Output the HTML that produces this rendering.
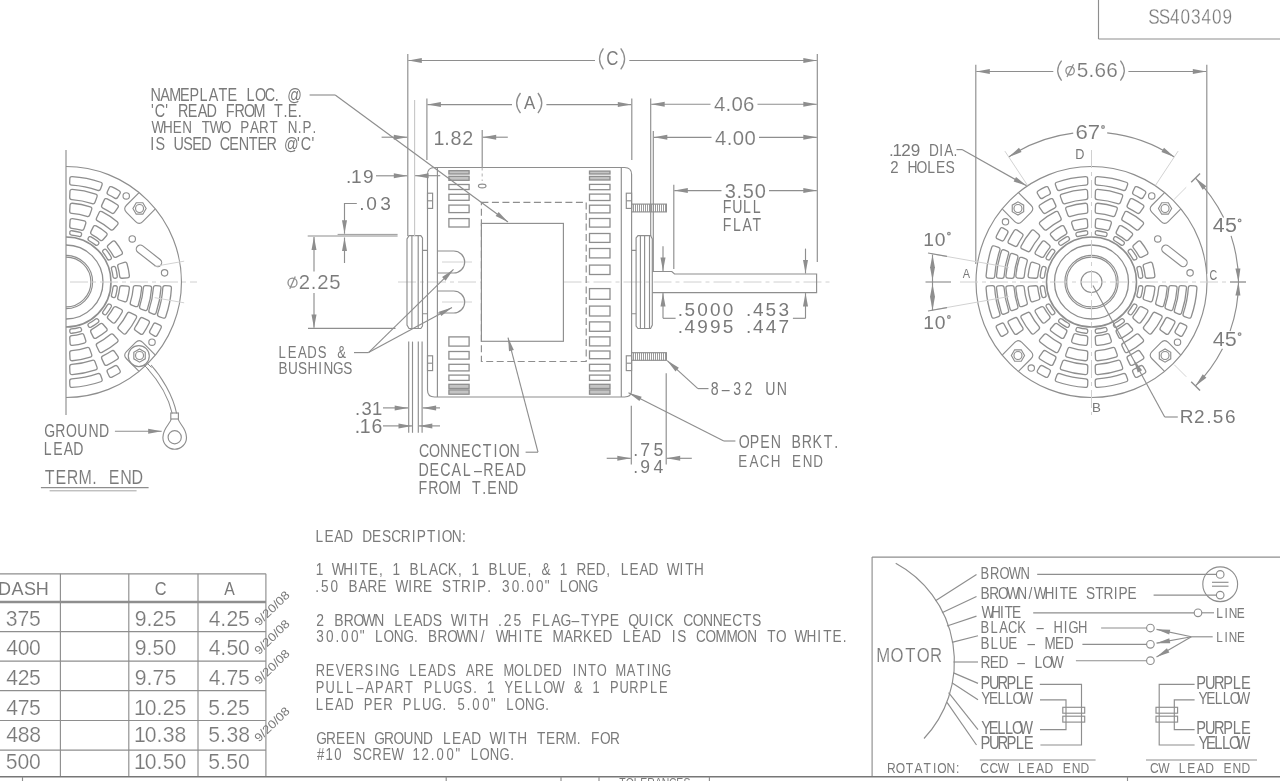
<!DOCTYPE html>
<html><head><meta charset="utf-8"><style>
html,body{margin:0;padding:0;background:#fff;overflow:hidden;width:1280px;height:781px}
svg{display:block;filter:grayscale(1)}
text{font-family:"Liberation Sans",sans-serif;fill:#7a7a7a}
</style></head><body>
<svg width="1280" height="781" viewBox="0 0 1280 781" fill="none" stroke="#8e8e8e" stroke-width="1.15">
<line x1="1098.50" y1="0.00" x2="1098.50" y2="39.00"/>
<line x1="1098.50" y1="39.00" x2="1280.00" y2="39.00"/>
<text transform="translate(0 23.80) scale(0.7800 1)" x="1472.23 1485.66 1500.16 1513.50 1527.02 1540.45 1553.79 1567.23" font-size="22.03" stroke="#fff" stroke-width="0.28">SS403409</text>
<circle cx="1091.50" cy="282.00" r="115.50"/>
<circle cx="1091.50" cy="282.00" r="45.00" stroke-width="1.60"/>
<circle cx="1091.50" cy="282.00" r="37.00" stroke-width="1.30"/>
<circle cx="1091.50" cy="282.00" r="26.60"/>
<circle cx="1091.50" cy="282.00" r="24.90"/>
<circle cx="1091.50" cy="282.00" r="10.50"/>
<path d="M1097.62 387.42 A105.60 105.60 0 0 0 1126.19 381.74 Q1128.26 380.99 1127.50 378.93 L1126.04 374.99 Q1125.27 372.93 1123.20 373.67 A97.00 97.00 0 0 1 1097.30 378.83 Q1095.10 378.93 1095.18 381.13 L1095.34 385.33 Q1095.42 387.53 1097.62 387.42 Z" stroke-width="1.30"/>
<path d="M1097.74 374.59 A92.80 92.80 0 0 0 1121.17 369.93 Q1123.24 369.20 1122.49 367.13 L1120.51 361.68 Q1119.75 359.62 1117.68 360.34 A82.60 82.60 0 0 1 1097.30 364.40 Q1095.10 364.52 1095.19 366.72 L1095.45 372.51 Q1095.54 374.71 1097.74 374.59 Z" stroke-width="1.30"/>
<path d="M1097.83 360.75 A79.00 79.00 0 0 0 1115.79 357.17 Q1117.87 356.47 1117.14 354.39 L1115.20 348.93 Q1114.47 346.85 1112.38 347.55 A68.80 68.80 0 0 1 1097.29 350.56 Q1095.10 350.71 1095.21 352.90 L1095.52 358.69 Q1095.63 360.89 1097.83 360.75 Z" stroke-width="1.30"/>
<path d="M1097.94 345.37 A63.70 63.70 0 0 0 1109.81 343.01 Q1111.90 342.34 1111.20 340.26 L1109.50 335.24 Q1108.80 333.16 1106.70 333.82 A54.00 54.00 0 0 1 1097.29 335.69 Q1095.10 335.88 1095.24 338.08 L1095.60 343.36 Q1095.74 345.56 1097.94 345.37 Z" stroke-width="1.30"/>
<path d="M1097.37 333.27 A51.60 51.60 0 0 0 1105.70 331.61 Q1107.56 331.04 1106.96 329.18 L1106.83 328.81 Q1106.23 326.95 1104.36 327.52 A47.30 47.30 0 0 1 1097.04 328.97 Q1095.10 329.16 1095.25 331.11 L1095.27 331.50 Q1095.42 333.45 1097.37 333.27 Z" stroke-width="1.30"/>
<path d="M1137.49 377.06 A105.60 105.60 0 0 0 1144.65 373.25 Q1146.54 372.12 1145.39 370.24 L1143.21 366.66 Q1142.06 364.78 1140.17 365.91 A97.00 97.00 0 0 1 1133.91 369.24 Q1131.92 370.18 1132.84 372.18 L1134.59 376.00 Q1135.50 378.00 1137.49 377.06 Z" stroke-width="1.30"/>
<path d="M1132.70 365.15 A92.80 92.80 0 0 0 1142.83 359.31 Q1144.65 358.07 1143.39 356.27 L1140.07 351.51 Q1138.81 349.71 1136.99 350.95 A82.60 82.60 0 0 1 1128.39 355.91 Q1126.40 356.86 1127.33 358.86 L1129.79 364.11 Q1130.71 366.11 1132.70 365.15 Z" stroke-width="1.30"/>
<path d="M1127.48 352.33 A79.00 79.00 0 0 0 1142.71 342.16 Q1144.36 340.71 1142.89 339.07 L1139.01 334.76 Q1137.54 333.13 1135.88 334.57 A68.80 68.80 0 0 1 1123.09 343.12 Q1121.12 344.10 1122.06 346.08 L1124.56 351.32 Q1125.51 353.31 1127.48 352.33 Z" stroke-width="1.30"/>
<path d="M1121.70 338.09 A63.70 63.70 0 0 0 1131.76 331.36 Q1133.44 329.94 1131.99 328.29 L1128.50 324.30 Q1127.06 322.64 1125.37 324.06 A54.00 54.00 0 0 1 1117.39 329.39 Q1115.44 330.40 1116.42 332.37 L1118.77 337.12 Q1119.74 339.10 1121.70 338.09 Z" stroke-width="1.30"/>
<path d="M1116.54 327.12 A51.60 51.60 0 0 0 1123.60 322.40 Q1125.11 321.16 1123.83 319.67 L1123.58 319.38 Q1122.31 317.89 1120.80 319.13 A47.30 47.30 0 0 1 1114.60 323.28 Q1112.87 324.20 1113.75 325.94 L1113.93 326.29 Q1114.81 328.03 1116.54 327.12 Z" stroke-width="1.30"/>
<path d="M1182.75 335.15 A105.60 105.60 0 0 0 1186.56 327.99 Q1187.50 326.00 1185.50 325.09 L1181.68 323.34 Q1179.68 322.42 1178.74 324.41 A97.00 97.00 0 0 1 1175.41 330.67 Q1174.28 332.56 1176.16 333.71 L1179.74 335.89 Q1181.62 337.04 1182.75 335.15 Z" stroke-width="1.30"/>
<path d="M1168.81 333.33 A92.80 92.80 0 0 0 1174.65 323.20 Q1175.61 321.21 1173.61 320.29 L1168.36 317.83 Q1166.36 316.90 1165.41 318.89 A82.60 82.60 0 0 1 1160.45 327.49 Q1159.21 329.31 1161.01 330.57 L1165.77 333.89 Q1167.57 335.15 1168.81 333.33 Z" stroke-width="1.30"/>
<path d="M1151.66 333.21 A79.00 79.00 0 0 0 1161.83 317.98 Q1162.81 316.01 1160.82 315.06 L1155.58 312.56 Q1153.60 311.62 1152.62 313.59 A68.80 68.80 0 0 1 1144.07 326.38 Q1142.63 328.04 1144.26 329.51 L1148.57 333.39 Q1150.21 334.86 1151.66 333.21 Z" stroke-width="1.30"/>
<path d="M1140.86 322.26 A63.70 63.70 0 0 0 1147.59 312.20 Q1148.60 310.24 1146.62 309.27 L1141.87 306.92 Q1139.90 305.94 1138.89 307.89 A54.00 54.00 0 0 1 1133.56 315.87 Q1132.14 317.56 1133.80 319.00 L1137.79 322.49 Q1139.44 323.94 1140.86 322.26 Z" stroke-width="1.30"/>
<path d="M1131.90 314.10 A51.60 51.60 0 0 0 1136.62 307.04 Q1137.53 305.31 1135.79 304.43 L1135.44 304.25 Q1133.70 303.37 1132.78 305.10 A47.30 47.30 0 0 1 1128.63 311.30 Q1127.39 312.81 1128.88 314.08 L1129.17 314.33 Q1130.66 315.61 1131.90 314.10 Z" stroke-width="1.30"/>
<path d="M1191.24 316.69 A105.60 105.60 0 0 0 1196.92 288.12 Q1197.03 285.92 1194.83 285.84 L1190.63 285.68 Q1188.43 285.60 1188.33 287.80 A97.00 97.00 0 0 1 1183.17 313.70 Q1182.43 315.77 1184.49 316.54 L1188.43 318.00 Q1190.49 318.76 1191.24 316.69 Z" stroke-width="1.30"/>
<path d="M1181.61 312.71 A95.20 95.20 0 0 0 1186.50 288.11 Q1186.62 285.91 1184.42 285.82 L1181.22 285.69 Q1179.03 285.60 1178.91 287.80 A87.60 87.60 0 0 1 1174.47 310.10 Q1173.74 312.17 1175.81 312.93 L1178.81 314.03 Q1180.88 314.79 1181.61 312.71 Z" stroke-width="1.30"/>
<path d="M1172.93 309.04 A85.80 85.80 0 0 0 1177.08 288.18 Q1177.21 285.98 1175.01 285.88 L1171.21 285.70 Q1169.02 285.60 1168.88 287.79 A77.60 77.60 0 0 1 1165.21 306.26 Q1164.49 308.34 1166.56 309.09 L1170.14 310.38 Q1172.21 311.12 1172.93 309.04 Z" stroke-width="1.30"/>
<path d="M1163.77 305.18 A75.90 75.90 0 0 0 1167.14 288.24 Q1167.29 286.05 1165.10 285.93 L1161.10 285.72 Q1158.90 285.60 1158.75 287.79 A67.50 67.50 0 0 1 1155.85 302.38 Q1155.15 304.47 1157.22 305.20 L1161.00 306.53 Q1163.07 307.27 1163.77 305.18 Z" stroke-width="1.30"/>
<path d="M1152.51 300.31 A63.70 63.70 0 0 0 1154.87 288.44 Q1155.06 286.24 1152.86 286.10 L1147.58 285.74 Q1145.38 285.60 1145.19 287.79 A54.00 54.00 0 0 1 1143.32 297.20 Q1142.66 299.30 1144.74 300.00 L1149.76 301.70 Q1151.84 302.40 1152.51 300.31 Z" stroke-width="1.30"/>
<path d="M1141.11 296.20 A51.60 51.60 0 0 0 1142.77 287.87 Q1142.95 285.92 1141.00 285.77 L1140.61 285.75 Q1138.66 285.60 1138.47 287.54 A47.30 47.30 0 0 1 1137.02 294.86 Q1136.45 296.73 1138.31 297.33 L1138.68 297.46 Q1140.54 298.06 1141.11 296.20 Z" stroke-width="1.30"/>
<path d="M1154.87 275.56 A63.70 63.70 0 0 0 1152.51 263.69 Q1151.84 261.60 1149.76 262.30 L1144.74 264.00 Q1142.66 264.70 1143.32 266.80 A54.00 54.00 0 0 1 1145.19 276.21 Q1145.38 278.40 1147.58 278.26 L1152.86 277.90 Q1155.06 277.76 1154.87 275.56 Z" stroke-width="1.30"/>
<path d="M1142.77 276.13 A51.60 51.60 0 0 0 1141.11 267.80 Q1140.54 265.94 1138.68 266.54 L1138.31 266.67 Q1136.45 267.27 1137.02 269.14 A47.30 47.30 0 0 1 1138.47 276.46 Q1138.66 278.40 1140.61 278.25 L1141.00 278.23 Q1142.95 278.08 1142.77 276.13 Z" stroke-width="1.30"/>
<path d="M1147.59 251.80 A63.70 63.70 0 0 0 1140.86 241.74 Q1139.44 240.06 1137.79 241.51 L1133.80 245.00 Q1132.14 246.44 1133.56 248.13 A54.00 54.00 0 0 1 1138.89 256.11 Q1139.90 258.06 1141.87 257.08 L1146.62 254.73 Q1148.60 253.76 1147.59 251.80 Z" stroke-width="1.30"/>
<path d="M1136.62 256.96 A51.60 51.60 0 0 0 1131.90 249.90 Q1130.66 248.39 1129.17 249.67 L1128.88 249.92 Q1127.39 251.19 1128.63 252.70 A47.30 47.30 0 0 1 1132.78 258.90 Q1133.70 260.63 1135.44 259.75 L1135.79 259.57 Q1137.53 258.69 1136.62 256.96 Z" stroke-width="1.30"/>
<path d="M1144.65 190.75 A105.60 105.60 0 0 0 1137.49 186.94 Q1135.50 186.00 1134.59 188.00 L1132.84 191.82 Q1131.92 193.82 1133.91 194.76 A97.00 97.00 0 0 1 1140.17 198.09 Q1142.06 199.22 1143.21 197.34 L1145.39 193.76 Q1146.54 191.88 1144.65 190.75 Z" stroke-width="1.30"/>
<path d="M1142.83 204.69 A92.80 92.80 0 0 0 1132.70 198.85 Q1130.71 197.89 1129.79 199.89 L1127.33 205.14 Q1126.40 207.14 1128.39 208.09 A82.60 82.60 0 0 1 1136.99 213.05 Q1138.81 214.29 1140.07 212.49 L1143.39 207.73 Q1144.65 205.93 1142.83 204.69 Z" stroke-width="1.30"/>
<path d="M1142.71 221.84 A79.00 79.00 0 0 0 1127.48 211.67 Q1125.51 210.69 1124.56 212.68 L1122.06 217.92 Q1121.12 219.90 1123.09 220.88 A68.80 68.80 0 0 1 1135.88 229.43 Q1137.54 230.87 1139.01 229.24 L1142.89 224.93 Q1144.36 223.29 1142.71 221.84 Z" stroke-width="1.30"/>
<path d="M1131.76 232.64 A63.70 63.70 0 0 0 1121.70 225.91 Q1119.74 224.90 1118.77 226.88 L1116.42 231.63 Q1115.44 233.60 1117.39 234.61 A54.00 54.00 0 0 1 1125.37 239.94 Q1127.06 241.36 1128.50 239.70 L1131.99 235.71 Q1133.44 234.06 1131.76 232.64 Z" stroke-width="1.30"/>
<path d="M1123.60 241.60 A51.60 51.60 0 0 0 1116.54 236.88 Q1114.81 235.97 1113.93 237.71 L1113.75 238.06 Q1112.87 239.80 1114.60 240.72 A47.30 47.30 0 0 1 1120.80 244.87 Q1122.31 246.11 1123.58 244.62 L1123.83 244.33 Q1125.11 242.84 1123.60 241.60 Z" stroke-width="1.30"/>
<path d="M1126.19 182.26 A105.60 105.60 0 0 0 1097.62 176.58 Q1095.42 176.47 1095.34 178.67 L1095.18 182.87 Q1095.10 185.07 1097.30 185.17 A97.00 97.00 0 0 1 1123.20 190.33 Q1125.27 191.07 1126.04 189.01 L1127.50 185.07 Q1128.26 183.01 1126.19 182.26 Z" stroke-width="1.30"/>
<path d="M1121.17 194.07 A92.80 92.80 0 0 0 1097.74 189.41 Q1095.54 189.29 1095.45 191.49 L1095.19 197.28 Q1095.10 199.48 1097.30 199.60 A82.60 82.60 0 0 1 1117.68 203.66 Q1119.75 204.38 1120.51 202.32 L1122.49 196.87 Q1123.24 194.80 1121.17 194.07 Z" stroke-width="1.30"/>
<path d="M1115.79 206.83 A79.00 79.00 0 0 0 1097.83 203.25 Q1095.63 203.11 1095.52 205.31 L1095.21 211.10 Q1095.10 213.29 1097.29 213.44 A68.80 68.80 0 0 1 1112.38 216.45 Q1114.47 217.15 1115.20 215.07 L1117.14 209.61 Q1117.87 207.53 1115.79 206.83 Z" stroke-width="1.30"/>
<path d="M1109.81 220.99 A63.70 63.70 0 0 0 1097.94 218.63 Q1095.74 218.44 1095.60 220.64 L1095.24 225.92 Q1095.10 228.12 1097.29 228.31 A54.00 54.00 0 0 1 1106.70 230.18 Q1108.80 230.84 1109.50 228.76 L1111.20 223.74 Q1111.90 221.66 1109.81 220.99 Z" stroke-width="1.30"/>
<path d="M1105.70 232.39 A51.60 51.60 0 0 0 1097.37 230.73 Q1095.42 230.55 1095.27 232.50 L1095.25 232.89 Q1095.10 234.84 1097.04 235.03 A47.30 47.30 0 0 1 1104.36 236.48 Q1106.23 237.05 1106.83 235.19 L1106.96 234.82 Q1107.56 232.96 1105.70 232.39 Z" stroke-width="1.30"/>
<path d="M1085.38 176.58 A105.60 105.60 0 0 0 1056.81 182.26 Q1054.74 183.01 1055.50 185.07 L1056.96 189.01 Q1057.73 191.07 1059.80 190.33 A97.00 97.00 0 0 1 1085.70 185.17 Q1087.90 185.07 1087.82 182.87 L1087.66 178.67 Q1087.58 176.47 1085.38 176.58 Z" stroke-width="1.30"/>
<path d="M1085.26 189.41 A92.80 92.80 0 0 0 1061.83 194.07 Q1059.76 194.80 1060.51 196.87 L1062.49 202.32 Q1063.25 204.38 1065.32 203.66 A82.60 82.60 0 0 1 1085.70 199.60 Q1087.90 199.48 1087.81 197.28 L1087.55 191.49 Q1087.46 189.29 1085.26 189.41 Z" stroke-width="1.30"/>
<path d="M1085.17 203.25 A79.00 79.00 0 0 0 1067.21 206.83 Q1065.13 207.53 1065.86 209.61 L1067.80 215.07 Q1068.53 217.15 1070.62 216.45 A68.80 68.80 0 0 1 1085.71 213.44 Q1087.90 213.29 1087.79 211.10 L1087.48 205.31 Q1087.37 203.11 1085.17 203.25 Z" stroke-width="1.30"/>
<path d="M1085.06 218.63 A63.70 63.70 0 0 0 1073.19 220.99 Q1071.10 221.66 1071.80 223.74 L1073.50 228.76 Q1074.20 230.84 1076.30 230.18 A54.00 54.00 0 0 1 1085.71 228.31 Q1087.90 228.12 1087.76 225.92 L1087.40 220.64 Q1087.26 218.44 1085.06 218.63 Z" stroke-width="1.30"/>
<path d="M1085.63 230.73 A51.60 51.60 0 0 0 1077.30 232.39 Q1075.44 232.96 1076.04 234.82 L1076.17 235.19 Q1076.77 237.05 1078.64 236.48 A47.30 47.30 0 0 1 1085.96 235.03 Q1087.90 234.84 1087.75 232.89 L1087.73 232.50 Q1087.58 230.55 1085.63 230.73 Z" stroke-width="1.30"/>
<path d="M1045.51 186.94 A105.60 105.60 0 0 0 1038.35 190.75 Q1036.46 191.88 1037.61 193.76 L1039.79 197.34 Q1040.94 199.22 1042.83 198.09 A97.00 97.00 0 0 1 1049.09 194.76 Q1051.08 193.82 1050.16 191.82 L1048.41 188.00 Q1047.50 186.00 1045.51 186.94 Z" stroke-width="1.30"/>
<path d="M1050.30 198.85 A92.80 92.80 0 0 0 1040.17 204.69 Q1038.35 205.93 1039.61 207.73 L1042.93 212.49 Q1044.19 214.29 1046.01 213.05 A82.60 82.60 0 0 1 1054.61 208.09 Q1056.60 207.14 1055.67 205.14 L1053.21 199.89 Q1052.29 197.89 1050.30 198.85 Z" stroke-width="1.30"/>
<path d="M1055.52 211.67 A79.00 79.00 0 0 0 1040.29 221.84 Q1038.64 223.29 1040.11 224.93 L1043.99 229.24 Q1045.46 230.87 1047.12 229.43 A68.80 68.80 0 0 1 1059.91 220.88 Q1061.88 219.90 1060.94 217.92 L1058.44 212.68 Q1057.49 210.69 1055.52 211.67 Z" stroke-width="1.30"/>
<path d="M1061.30 225.91 A63.70 63.70 0 0 0 1051.24 232.64 Q1049.56 234.06 1051.01 235.71 L1054.50 239.70 Q1055.94 241.36 1057.63 239.94 A54.00 54.00 0 0 1 1065.61 234.61 Q1067.56 233.60 1066.58 231.63 L1064.23 226.88 Q1063.26 224.90 1061.30 225.91 Z" stroke-width="1.30"/>
<path d="M1066.46 236.88 A51.60 51.60 0 0 0 1059.40 241.60 Q1057.89 242.84 1059.17 244.33 L1059.42 244.62 Q1060.69 246.11 1062.20 244.87 A47.30 47.30 0 0 1 1068.40 240.72 Q1070.13 239.80 1069.25 238.06 L1069.07 237.71 Q1068.19 235.97 1066.46 236.88 Z" stroke-width="1.30"/>
<path d="M1000.25 228.85 A105.60 105.60 0 0 0 996.44 236.01 Q995.50 238.00 997.50 238.91 L1001.32 240.66 Q1003.32 241.58 1004.26 239.59 A97.00 97.00 0 0 1 1007.59 233.33 Q1008.72 231.44 1006.84 230.29 L1003.26 228.11 Q1001.38 226.96 1000.25 228.85 Z" stroke-width="1.30"/>
<path d="M1014.19 230.67 A92.80 92.80 0 0 0 1008.35 240.80 Q1007.39 242.79 1009.39 243.71 L1014.64 246.17 Q1016.64 247.10 1017.59 245.11 A82.60 82.60 0 0 1 1022.55 236.51 Q1023.79 234.69 1021.99 233.43 L1017.23 230.11 Q1015.43 228.85 1014.19 230.67 Z" stroke-width="1.30"/>
<path d="M1031.34 230.79 A79.00 79.00 0 0 0 1021.17 246.02 Q1020.19 247.99 1022.18 248.94 L1027.42 251.44 Q1029.40 252.38 1030.38 250.41 A68.80 68.80 0 0 1 1038.93 237.62 Q1040.37 235.96 1038.74 234.49 L1034.43 230.61 Q1032.79 229.14 1031.34 230.79 Z" stroke-width="1.30"/>
<path d="M1042.14 241.74 A63.70 63.70 0 0 0 1035.41 251.80 Q1034.40 253.76 1036.38 254.73 L1041.13 257.08 Q1043.10 258.06 1044.11 256.11 A54.00 54.00 0 0 1 1049.44 248.13 Q1050.86 246.44 1049.20 245.00 L1045.21 241.51 Q1043.56 240.06 1042.14 241.74 Z" stroke-width="1.30"/>
<path d="M1051.10 249.90 A51.60 51.60 0 0 0 1046.38 256.96 Q1045.47 258.69 1047.21 259.57 L1047.56 259.75 Q1049.30 260.63 1050.22 258.90 A47.30 47.30 0 0 1 1054.37 252.70 Q1055.61 251.19 1054.12 249.92 L1053.83 249.67 Q1052.34 248.39 1051.10 249.90 Z" stroke-width="1.30"/>
<path d="M991.76 247.31 A105.60 105.60 0 0 0 986.08 275.88 Q985.97 278.08 988.17 278.16 L992.37 278.32 Q994.57 278.40 994.67 276.20 A97.00 97.00 0 0 1 999.83 250.30 Q1000.57 248.23 998.51 247.46 L994.57 246.00 Q992.51 245.24 991.76 247.31 Z" stroke-width="1.30"/>
<path d="M1001.39 251.29 A95.20 95.20 0 0 0 996.50 275.89 Q996.38 278.09 998.58 278.18 L1001.78 278.31 Q1003.97 278.40 1004.09 276.20 A87.60 87.60 0 0 1 1008.53 253.90 Q1009.26 251.83 1007.19 251.07 L1004.19 249.97 Q1002.12 249.21 1001.39 251.29 Z" stroke-width="1.30"/>
<path d="M1010.07 254.96 A85.80 85.80 0 0 0 1005.92 275.82 Q1005.79 278.02 1007.99 278.12 L1011.79 278.30 Q1013.98 278.40 1014.12 276.21 A77.60 77.60 0 0 1 1017.79 257.74 Q1018.51 255.66 1016.44 254.91 L1012.86 253.62 Q1010.79 252.88 1010.07 254.96 Z" stroke-width="1.30"/>
<path d="M1019.23 258.82 A75.90 75.90 0 0 0 1015.86 275.76 Q1015.71 277.95 1017.90 278.07 L1021.90 278.28 Q1024.10 278.40 1024.25 276.21 A67.50 67.50 0 0 1 1027.15 261.62 Q1027.85 259.53 1025.78 258.80 L1022.00 257.47 Q1019.93 256.73 1019.23 258.82 Z" stroke-width="1.30"/>
<path d="M1030.49 263.69 A63.70 63.70 0 0 0 1028.13 275.56 Q1027.94 277.76 1030.14 277.90 L1035.42 278.26 Q1037.62 278.40 1037.81 276.21 A54.00 54.00 0 0 1 1039.68 266.80 Q1040.34 264.70 1038.26 264.00 L1033.24 262.30 Q1031.16 261.60 1030.49 263.69 Z" stroke-width="1.30"/>
<path d="M1041.89 267.80 A51.60 51.60 0 0 0 1040.23 276.13 Q1040.05 278.08 1042.00 278.23 L1042.39 278.25 Q1044.34 278.40 1044.53 276.46 A47.30 47.30 0 0 1 1045.98 269.14 Q1046.55 267.27 1044.69 266.67 L1044.32 266.54 Q1042.46 265.94 1041.89 267.80 Z" stroke-width="1.30"/>
<path d="M986.08 288.12 A105.60 105.60 0 0 0 991.76 316.69 Q992.51 318.76 994.57 318.00 L998.51 316.54 Q1000.57 315.77 999.83 313.70 A97.00 97.00 0 0 1 994.67 287.80 Q994.57 285.60 992.37 285.68 L988.17 285.84 Q985.97 285.92 986.08 288.12 Z" stroke-width="1.30"/>
<path d="M996.50 288.11 A95.20 95.20 0 0 0 1001.39 312.71 Q1002.12 314.79 1004.19 314.03 L1007.19 312.93 Q1009.26 312.17 1008.53 310.10 A87.60 87.60 0 0 1 1004.09 287.80 Q1003.97 285.60 1001.78 285.69 L998.58 285.82 Q996.38 285.91 996.50 288.11 Z" stroke-width="1.30"/>
<path d="M1005.92 288.18 A85.80 85.80 0 0 0 1010.07 309.04 Q1010.79 311.12 1012.86 310.38 L1016.44 309.09 Q1018.51 308.34 1017.79 306.26 A77.60 77.60 0 0 1 1014.12 287.79 Q1013.98 285.60 1011.79 285.70 L1007.99 285.88 Q1005.79 285.98 1005.92 288.18 Z" stroke-width="1.30"/>
<path d="M1015.86 288.24 A75.90 75.90 0 0 0 1019.23 305.18 Q1019.93 307.27 1022.00 306.53 L1025.78 305.20 Q1027.85 304.47 1027.15 302.38 A67.50 67.50 0 0 1 1024.25 287.79 Q1024.10 285.60 1021.90 285.72 L1017.90 285.93 Q1015.71 286.05 1015.86 288.24 Z" stroke-width="1.30"/>
<path d="M1028.13 288.44 A63.70 63.70 0 0 0 1030.49 300.31 Q1031.16 302.40 1033.24 301.70 L1038.26 300.00 Q1040.34 299.30 1039.68 297.20 A54.00 54.00 0 0 1 1037.81 287.79 Q1037.62 285.60 1035.42 285.74 L1030.14 286.10 Q1027.94 286.24 1028.13 288.44 Z" stroke-width="1.30"/>
<path d="M1040.23 287.87 A51.60 51.60 0 0 0 1041.89 296.20 Q1042.46 298.06 1044.32 297.46 L1044.69 297.33 Q1046.55 296.73 1045.98 294.86 A47.30 47.30 0 0 1 1044.53 287.54 Q1044.34 285.60 1042.39 285.75 L1042.00 285.77 Q1040.05 285.92 1040.23 287.87 Z" stroke-width="1.30"/>
<path d="M996.44 327.99 A105.60 105.60 0 0 0 1000.25 335.15 Q1001.38 337.04 1003.26 335.89 L1006.84 333.71 Q1008.72 332.56 1007.59 330.67 A97.00 97.00 0 0 1 1004.26 324.41 Q1003.32 322.42 1001.32 323.34 L997.50 325.09 Q995.50 326.00 996.44 327.99 Z" stroke-width="1.30"/>
<path d="M1008.35 323.20 A92.80 92.80 0 0 0 1014.19 333.33 Q1015.43 335.15 1017.23 333.89 L1021.99 330.57 Q1023.79 329.31 1022.55 327.49 A82.60 82.60 0 0 1 1017.59 318.89 Q1016.64 316.90 1014.64 317.83 L1009.39 320.29 Q1007.39 321.21 1008.35 323.20 Z" stroke-width="1.30"/>
<path d="M1021.17 317.98 A79.00 79.00 0 0 0 1031.34 333.21 Q1032.79 334.86 1034.43 333.39 L1038.74 329.51 Q1040.37 328.04 1038.93 326.38 A68.80 68.80 0 0 1 1030.38 313.59 Q1029.40 311.62 1027.42 312.56 L1022.18 315.06 Q1020.19 316.01 1021.17 317.98 Z" stroke-width="1.30"/>
<path d="M1035.41 312.20 A63.70 63.70 0 0 0 1042.14 322.26 Q1043.56 323.94 1045.21 322.49 L1049.20 319.00 Q1050.86 317.56 1049.44 315.87 A54.00 54.00 0 0 1 1044.11 307.89 Q1043.10 305.94 1041.13 306.92 L1036.38 309.27 Q1034.40 310.24 1035.41 312.20 Z" stroke-width="1.30"/>
<path d="M1046.38 307.04 A51.60 51.60 0 0 0 1051.10 314.10 Q1052.34 315.61 1053.83 314.33 L1054.12 314.08 Q1055.61 312.81 1054.37 311.30 A47.30 47.30 0 0 1 1050.22 305.10 Q1049.30 303.37 1047.56 304.25 L1047.21 304.43 Q1045.47 305.31 1046.38 307.04 Z" stroke-width="1.30"/>
<path d="M1038.35 373.25 A105.60 105.60 0 0 0 1045.51 377.06 Q1047.50 378.00 1048.41 376.00 L1050.16 372.18 Q1051.08 370.18 1049.09 369.24 A97.00 97.00 0 0 1 1042.83 365.91 Q1040.94 364.78 1039.79 366.66 L1037.61 370.24 Q1036.46 372.12 1038.35 373.25 Z" stroke-width="1.30"/>
<path d="M1040.17 359.31 A92.80 92.80 0 0 0 1050.30 365.15 Q1052.29 366.11 1053.21 364.11 L1055.67 358.86 Q1056.60 356.86 1054.61 355.91 A82.60 82.60 0 0 1 1046.01 350.95 Q1044.19 349.71 1042.93 351.51 L1039.61 356.27 Q1038.35 358.07 1040.17 359.31 Z" stroke-width="1.30"/>
<path d="M1040.29 342.16 A79.00 79.00 0 0 0 1055.52 352.33 Q1057.49 353.31 1058.44 351.32 L1060.94 346.08 Q1061.88 344.10 1059.91 343.12 A68.80 68.80 0 0 1 1047.12 334.57 Q1045.46 333.13 1043.99 334.76 L1040.11 339.07 Q1038.64 340.71 1040.29 342.16 Z" stroke-width="1.30"/>
<path d="M1051.24 331.36 A63.70 63.70 0 0 0 1061.30 338.09 Q1063.26 339.10 1064.23 337.12 L1066.58 332.37 Q1067.56 330.40 1065.61 329.39 A54.00 54.00 0 0 1 1057.63 324.06 Q1055.94 322.64 1054.50 324.30 L1051.01 328.29 Q1049.56 329.94 1051.24 331.36 Z" stroke-width="1.30"/>
<path d="M1059.40 322.40 A51.60 51.60 0 0 0 1066.46 327.12 Q1068.19 328.03 1069.07 326.29 L1069.25 325.94 Q1070.13 324.20 1068.40 323.28 A47.30 47.30 0 0 1 1062.20 319.13 Q1060.69 317.89 1059.42 319.38 L1059.17 319.67 Q1057.89 321.16 1059.40 322.40 Z" stroke-width="1.30"/>
<path d="M1056.81 381.74 A105.60 105.60 0 0 0 1085.38 387.42 Q1087.58 387.53 1087.66 385.33 L1087.82 381.13 Q1087.90 378.93 1085.70 378.83 A97.00 97.00 0 0 1 1059.80 373.67 Q1057.73 372.93 1056.96 374.99 L1055.50 378.93 Q1054.74 380.99 1056.81 381.74 Z" stroke-width="1.30"/>
<path d="M1061.83 369.93 A92.80 92.80 0 0 0 1085.26 374.59 Q1087.46 374.71 1087.55 372.51 L1087.81 366.72 Q1087.90 364.52 1085.70 364.40 A82.60 82.60 0 0 1 1065.32 360.34 Q1063.25 359.62 1062.49 361.68 L1060.51 367.13 Q1059.76 369.20 1061.83 369.93 Z" stroke-width="1.30"/>
<path d="M1067.21 357.17 A79.00 79.00 0 0 0 1085.17 360.75 Q1087.37 360.89 1087.48 358.69 L1087.79 352.90 Q1087.90 350.71 1085.71 350.56 A68.80 68.80 0 0 1 1070.62 347.55 Q1068.53 346.85 1067.80 348.93 L1065.86 354.39 Q1065.13 356.47 1067.21 357.17 Z" stroke-width="1.30"/>
<path d="M1073.19 343.01 A63.70 63.70 0 0 0 1085.06 345.37 Q1087.26 345.56 1087.40 343.36 L1087.76 338.08 Q1087.90 335.88 1085.71 335.69 A54.00 54.00 0 0 1 1076.30 333.82 Q1074.20 333.16 1073.50 335.24 L1071.80 340.26 Q1071.10 342.34 1073.19 343.01 Z" stroke-width="1.30"/>
<path d="M1077.30 331.61 A51.60 51.60 0 0 0 1085.63 333.27 Q1087.58 333.45 1087.73 331.50 L1087.75 331.11 Q1087.90 329.16 1085.96 328.97 A47.30 47.30 0 0 1 1078.64 327.52 Q1076.77 326.95 1076.17 328.81 L1076.04 329.18 Q1075.44 331.04 1077.30 331.61 Z" stroke-width="1.30"/>
<path d="M1168.34 202.75 L1161.74 202.75 L1158.44 208.46 L1161.74 214.18 L1168.34 214.18 L1171.64 208.46 Z"/>
<circle cx="1165.04" cy="208.46" r="4.00"/>
<path d="M1164.33 192.90 L1151.96 205.28 Q1148.42 208.81 1151.96 212.35 L1161.15 221.54 Q1164.69 225.08 1168.22 221.54 L1180.60 209.17"/>
<path d="M1170.75 358.84 L1170.75 352.24 L1165.04 348.94 L1159.32 352.24 L1159.32 358.84 L1165.04 362.14 Z"/>
<circle cx="1165.04" cy="355.54" r="4.00"/>
<path d="M1180.60 354.83 L1168.22 342.46 Q1164.69 338.92 1161.15 342.46 L1151.96 351.65 Q1148.42 355.19 1151.96 358.72 L1164.33 371.10"/>
<path d="M1012.25 205.16 L1012.25 211.76 L1017.96 215.06 L1023.68 211.76 L1023.68 205.16 L1017.96 201.86 Z"/>
<circle cx="1017.96" cy="208.46" r="4.00"/>
<path d="M1002.40 209.17 L1014.78 221.54 Q1018.31 225.08 1021.85 221.54 L1031.04 212.35 Q1034.58 208.81 1031.04 205.28 L1018.67 192.90"/>
<path d="M1014.66 361.25 L1021.26 361.25 L1024.56 355.54 L1021.26 349.82 L1014.66 349.82 L1011.36 355.54 Z"/>
<circle cx="1017.96" cy="355.54" r="4.00"/>
<path d="M1018.67 371.10 L1031.04 358.72 Q1034.58 355.19 1031.04 351.65 L1021.85 342.46 Q1018.31 338.92 1014.78 342.46 L1002.40 354.83"/>
<rect x="1159.47" y="251.84" width="30" height="8" rx="4" transform="rotate(38 1174.47 255.84)"/>
<circle cx="1157.75" cy="238.97" r="3.20"/>
<circle cx="1190.08" cy="272.86" r="3.20"/>
<circle cx="1151.73" cy="195.99" r="3.20"/>
<circle cx="1005.49" cy="221.77" r="3.20"/>
<circle cx="1031.27" cy="368.01" r="3.20"/>
<circle cx="1177.51" cy="342.23" r="3.20"/>
<path d="M66.00 166.50 A115.50 115.50 0 0 1 66.00 397.50"/>
<path d="M66.00 237.00 A45.00 45.00 0 0 1 66.00 327.00" stroke-width="1.60"/>
<path d="M66.00 245.00 A37.00 37.00 0 0 1 66.00 319.00" stroke-width="1.30"/>
<path d="M66.00 255.40 A26.60 26.60 0 0 1 66.00 308.60"/>
<path d="M66.00 257.10 A24.90 24.90 0 0 1 66.00 306.90"/>
<path d="M72.12 387.42 A105.60 105.60 0 0 0 100.69 381.74 Q102.76 380.99 102.00 378.93 L100.54 374.99 Q99.77 372.93 97.70 373.67 A97.00 97.00 0 0 1 71.80 378.83 Q69.60 378.93 69.68 381.13 L69.84 385.33 Q69.92 387.53 72.12 387.42 Z" stroke-width="1.30"/>
<path d="M72.24 374.59 A92.80 92.80 0 0 0 95.67 369.93 Q97.74 369.20 96.99 367.13 L95.01 361.68 Q94.25 359.62 92.18 360.34 A82.60 82.60 0 0 1 71.80 364.40 Q69.60 364.52 69.69 366.72 L69.95 372.51 Q70.04 374.71 72.24 374.59 Z" stroke-width="1.30"/>
<path d="M72.33 360.75 A79.00 79.00 0 0 0 90.29 357.17 Q92.37 356.47 91.64 354.39 L89.70 348.93 Q88.97 346.85 86.88 347.55 A68.80 68.80 0 0 1 71.79 350.56 Q69.60 350.71 69.71 352.90 L70.02 358.69 Q70.13 360.89 72.33 360.75 Z" stroke-width="1.30"/>
<path d="M72.44 345.37 A63.70 63.70 0 0 0 84.31 343.01 Q86.40 342.34 85.70 340.26 L84.00 335.24 Q83.30 333.16 81.20 333.82 A54.00 54.00 0 0 1 71.79 335.69 Q69.60 335.88 69.74 338.08 L70.10 343.36 Q70.24 345.56 72.44 345.37 Z" stroke-width="1.30"/>
<path d="M71.87 333.27 A51.60 51.60 0 0 0 80.20 331.61 Q82.06 331.04 81.46 329.18 L81.33 328.81 Q80.73 326.95 78.86 327.52 A47.30 47.30 0 0 1 71.54 328.97 Q69.60 329.16 69.75 331.11 L69.77 331.50 Q69.92 333.45 71.87 333.27 Z" stroke-width="1.30"/>
<path d="M111.99 377.06 A105.60 105.60 0 0 0 119.15 373.25 Q121.04 372.12 119.89 370.24 L117.71 366.66 Q116.56 364.78 114.67 365.91 A97.00 97.00 0 0 1 108.41 369.24 Q106.42 370.18 107.34 372.18 L109.09 376.00 Q110.00 378.00 111.99 377.06 Z" stroke-width="1.30"/>
<path d="M107.20 365.15 A92.80 92.80 0 0 0 117.33 359.31 Q119.15 358.07 117.89 356.27 L114.57 351.51 Q113.31 349.71 111.49 350.95 A82.60 82.60 0 0 1 102.89 355.91 Q100.90 356.86 101.83 358.86 L104.29 364.11 Q105.21 366.11 107.20 365.15 Z" stroke-width="1.30"/>
<path d="M101.98 352.33 A79.00 79.00 0 0 0 117.21 342.16 Q118.86 340.71 117.39 339.07 L113.51 334.76 Q112.04 333.13 110.38 334.57 A68.80 68.80 0 0 1 97.59 343.12 Q95.62 344.10 96.56 346.08 L99.06 351.32 Q100.01 353.31 101.98 352.33 Z" stroke-width="1.30"/>
<path d="M96.20 338.09 A63.70 63.70 0 0 0 106.26 331.36 Q107.94 329.94 106.49 328.29 L103.00 324.30 Q101.56 322.64 99.87 324.06 A54.00 54.00 0 0 1 91.89 329.39 Q89.94 330.40 90.92 332.37 L93.27 337.12 Q94.24 339.10 96.20 338.09 Z" stroke-width="1.30"/>
<path d="M91.04 327.12 A51.60 51.60 0 0 0 98.10 322.40 Q99.61 321.16 98.33 319.67 L98.08 319.38 Q96.81 317.89 95.30 319.13 A47.30 47.30 0 0 1 89.10 323.28 Q87.37 324.20 88.25 325.94 L88.43 326.29 Q89.31 328.03 91.04 327.12 Z" stroke-width="1.30"/>
<path d="M157.25 335.15 A105.60 105.60 0 0 0 161.06 327.99 Q162.00 326.00 160.00 325.09 L156.18 323.34 Q154.18 322.42 153.24 324.41 A97.00 97.00 0 0 1 149.91 330.67 Q148.78 332.56 150.66 333.71 L154.24 335.89 Q156.12 337.04 157.25 335.15 Z" stroke-width="1.30"/>
<path d="M143.31 333.33 A92.80 92.80 0 0 0 149.15 323.20 Q150.11 321.21 148.11 320.29 L142.86 317.83 Q140.86 316.90 139.91 318.89 A82.60 82.60 0 0 1 134.95 327.49 Q133.71 329.31 135.51 330.57 L140.27 333.89 Q142.07 335.15 143.31 333.33 Z" stroke-width="1.30"/>
<path d="M126.16 333.21 A79.00 79.00 0 0 0 136.33 317.98 Q137.31 316.01 135.32 315.06 L130.08 312.56 Q128.10 311.62 127.12 313.59 A68.80 68.80 0 0 1 118.57 326.38 Q117.13 328.04 118.76 329.51 L123.07 333.39 Q124.71 334.86 126.16 333.21 Z" stroke-width="1.30"/>
<path d="M115.36 322.26 A63.70 63.70 0 0 0 122.09 312.20 Q123.10 310.24 121.12 309.27 L116.37 306.92 Q114.40 305.94 113.39 307.89 A54.00 54.00 0 0 1 108.06 315.87 Q106.64 317.56 108.30 319.00 L112.29 322.49 Q113.94 323.94 115.36 322.26 Z" stroke-width="1.30"/>
<path d="M106.40 314.10 A51.60 51.60 0 0 0 111.12 307.04 Q112.03 305.31 110.29 304.43 L109.94 304.25 Q108.20 303.37 107.28 305.10 A47.30 47.30 0 0 1 103.13 311.30 Q101.89 312.81 103.38 314.08 L103.67 314.33 Q105.16 315.61 106.40 314.10 Z" stroke-width="1.30"/>
<path d="M165.74 316.69 A105.60 105.60 0 0 0 171.42 288.12 Q171.53 285.92 169.33 285.84 L165.13 285.68 Q162.93 285.60 162.83 287.80 A97.00 97.00 0 0 1 157.67 313.70 Q156.93 315.77 158.99 316.54 L162.93 318.00 Q164.99 318.76 165.74 316.69 Z" stroke-width="1.30"/>
<path d="M156.11 312.71 A95.20 95.20 0 0 0 161.00 288.11 Q161.12 285.91 158.92 285.82 L155.72 285.69 Q153.53 285.60 153.41 287.80 A87.60 87.60 0 0 1 148.97 310.10 Q148.24 312.17 150.31 312.93 L153.31 314.03 Q155.38 314.79 156.11 312.71 Z" stroke-width="1.30"/>
<path d="M147.43 309.04 A85.80 85.80 0 0 0 151.58 288.18 Q151.71 285.98 149.51 285.88 L145.71 285.70 Q143.52 285.60 143.38 287.79 A77.60 77.60 0 0 1 139.71 306.26 Q138.99 308.34 141.06 309.09 L144.64 310.38 Q146.71 311.12 147.43 309.04 Z" stroke-width="1.30"/>
<path d="M138.27 305.18 A75.90 75.90 0 0 0 141.64 288.24 Q141.79 286.05 139.60 285.93 L135.60 285.72 Q133.40 285.60 133.25 287.79 A67.50 67.50 0 0 1 130.35 302.38 Q129.65 304.47 131.72 305.20 L135.50 306.53 Q137.57 307.27 138.27 305.18 Z" stroke-width="1.30"/>
<path d="M127.01 300.31 A63.70 63.70 0 0 0 129.37 288.44 Q129.56 286.24 127.36 286.10 L122.08 285.74 Q119.88 285.60 119.69 287.79 A54.00 54.00 0 0 1 117.82 297.20 Q117.16 299.30 119.24 300.00 L124.26 301.70 Q126.34 302.40 127.01 300.31 Z" stroke-width="1.30"/>
<path d="M115.61 296.20 A51.60 51.60 0 0 0 117.27 287.87 Q117.45 285.92 115.50 285.77 L115.11 285.75 Q113.16 285.60 112.97 287.54 A47.30 47.30 0 0 1 111.52 294.86 Q110.95 296.73 112.81 297.33 L113.18 297.46 Q115.04 298.06 115.61 296.20 Z" stroke-width="1.30"/>
<path d="M129.37 275.56 A63.70 63.70 0 0 0 127.01 263.69 Q126.34 261.60 124.26 262.30 L119.24 264.00 Q117.16 264.70 117.82 266.80 A54.00 54.00 0 0 1 119.69 276.21 Q119.88 278.40 122.08 278.26 L127.36 277.90 Q129.56 277.76 129.37 275.56 Z" stroke-width="1.30"/>
<path d="M117.27 276.13 A51.60 51.60 0 0 0 115.61 267.80 Q115.04 265.94 113.18 266.54 L112.81 266.67 Q110.95 267.27 111.52 269.14 A47.30 47.30 0 0 1 112.97 276.46 Q113.16 278.40 115.11 278.25 L115.50 278.23 Q117.45 278.08 117.27 276.13 Z" stroke-width="1.30"/>
<path d="M122.09 251.80 A63.70 63.70 0 0 0 115.36 241.74 Q113.94 240.06 112.29 241.51 L108.30 245.00 Q106.64 246.44 108.06 248.13 A54.00 54.00 0 0 1 113.39 256.11 Q114.40 258.06 116.37 257.08 L121.12 254.73 Q123.10 253.76 122.09 251.80 Z" stroke-width="1.30"/>
<path d="M111.12 256.96 A51.60 51.60 0 0 0 106.40 249.90 Q105.16 248.39 103.67 249.67 L103.38 249.92 Q101.89 251.19 103.13 252.70 A47.30 47.30 0 0 1 107.28 258.90 Q108.20 260.63 109.94 259.75 L110.29 259.57 Q112.03 258.69 111.12 256.96 Z" stroke-width="1.30"/>
<path d="M119.15 190.75 A105.60 105.60 0 0 0 111.99 186.94 Q110.00 186.00 109.09 188.00 L107.34 191.82 Q106.42 193.82 108.41 194.76 A97.00 97.00 0 0 1 114.67 198.09 Q116.56 199.22 117.71 197.34 L119.89 193.76 Q121.04 191.88 119.15 190.75 Z" stroke-width="1.30"/>
<path d="M117.33 204.69 A92.80 92.80 0 0 0 107.20 198.85 Q105.21 197.89 104.29 199.89 L101.83 205.14 Q100.90 207.14 102.89 208.09 A82.60 82.60 0 0 1 111.49 213.05 Q113.31 214.29 114.57 212.49 L117.89 207.73 Q119.15 205.93 117.33 204.69 Z" stroke-width="1.30"/>
<path d="M117.21 221.84 A79.00 79.00 0 0 0 101.98 211.67 Q100.01 210.69 99.06 212.68 L96.56 217.92 Q95.62 219.90 97.59 220.88 A68.80 68.80 0 0 1 110.38 229.43 Q112.04 230.87 113.51 229.24 L117.39 224.93 Q118.86 223.29 117.21 221.84 Z" stroke-width="1.30"/>
<path d="M106.26 232.64 A63.70 63.70 0 0 0 96.20 225.91 Q94.24 224.90 93.27 226.88 L90.92 231.63 Q89.94 233.60 91.89 234.61 A54.00 54.00 0 0 1 99.87 239.94 Q101.56 241.36 103.00 239.70 L106.49 235.71 Q107.94 234.06 106.26 232.64 Z" stroke-width="1.30"/>
<path d="M98.10 241.60 A51.60 51.60 0 0 0 91.04 236.88 Q89.31 235.97 88.43 237.71 L88.25 238.06 Q87.37 239.80 89.10 240.72 A47.30 47.30 0 0 1 95.30 244.87 Q96.81 246.11 98.08 244.62 L98.33 244.33 Q99.61 242.84 98.10 241.60 Z" stroke-width="1.30"/>
<path d="M100.69 182.26 A105.60 105.60 0 0 0 72.12 176.58 Q69.92 176.47 69.84 178.67 L69.68 182.87 Q69.60 185.07 71.80 185.17 A97.00 97.00 0 0 1 97.70 190.33 Q99.77 191.07 100.54 189.01 L102.00 185.07 Q102.76 183.01 100.69 182.26 Z" stroke-width="1.30"/>
<path d="M95.67 194.07 A92.80 92.80 0 0 0 72.24 189.41 Q70.04 189.29 69.95 191.49 L69.69 197.28 Q69.60 199.48 71.80 199.60 A82.60 82.60 0 0 1 92.18 203.66 Q94.25 204.38 95.01 202.32 L96.99 196.87 Q97.74 194.80 95.67 194.07 Z" stroke-width="1.30"/>
<path d="M90.29 206.83 A79.00 79.00 0 0 0 72.33 203.25 Q70.13 203.11 70.02 205.31 L69.71 211.10 Q69.60 213.29 71.79 213.44 A68.80 68.80 0 0 1 86.88 216.45 Q88.97 217.15 89.70 215.07 L91.64 209.61 Q92.37 207.53 90.29 206.83 Z" stroke-width="1.30"/>
<path d="M84.31 220.99 A63.70 63.70 0 0 0 72.44 218.63 Q70.24 218.44 70.10 220.64 L69.74 225.92 Q69.60 228.12 71.79 228.31 A54.00 54.00 0 0 1 81.20 230.18 Q83.30 230.84 84.00 228.76 L85.70 223.74 Q86.40 221.66 84.31 220.99 Z" stroke-width="1.30"/>
<path d="M80.20 232.39 A51.60 51.60 0 0 0 71.87 230.73 Q69.92 230.55 69.77 232.50 L69.75 232.89 Q69.60 234.84 71.54 235.03 A47.30 47.30 0 0 1 78.86 236.48 Q80.73 237.05 81.33 235.19 L81.46 234.82 Q82.06 232.96 80.20 232.39 Z" stroke-width="1.30"/>
<path d="M142.84 202.75 L136.24 202.75 L132.94 208.46 L136.24 214.18 L142.84 214.18 L146.14 208.46 Z"/>
<circle cx="139.54" cy="208.46" r="4.00"/>
<path d="M138.83 192.90 L126.46 205.28 Q122.92 208.81 126.46 212.35 L135.65 221.54 Q139.19 225.08 142.72 221.54 L155.10 209.17"/>
<path d="M145.25 358.84 L145.25 352.24 L139.54 348.94 L133.82 352.24 L133.82 358.84 L139.54 362.14 Z"/>
<circle cx="139.54" cy="355.54" r="4.00"/>
<path d="M155.10 354.83 L142.72 342.46 Q139.19 338.92 135.65 342.46 L126.46 351.65 Q122.92 355.19 126.46 358.72 L138.83 371.10"/>
<rect x="133.97" y="251.84" width="30" height="8" rx="4" transform="rotate(38 148.97 255.84)"/>
<line x1="154.63" y1="266.37" x2="184.18" y2="261.16" stroke="#d2d2d2" stroke-width="1"/>
<line x1="154.63" y1="297.63" x2="184.18" y2="302.84" stroke="#d2d2d2" stroke-width="1"/>
<circle cx="132.25" cy="238.97" r="3.20"/>
<circle cx="164.58" cy="272.86" r="3.20"/>
<circle cx="126.23" cy="195.99" r="3.20"/>
<circle cx="152.01" cy="342.23" r="3.20"/>
<line x1="66.00" y1="150.00" x2="66.00" y2="415.00"/>
<path d="M147 368 C 156 378, 168 395, 172.2 413.5" stroke-width="1.10"/>
<path d="M151 365 C 161 376, 173 395, 176.6 413.5" stroke-width="1.10"/>
<rect x="170.80" y="413.00" width="7.60" height="6.00"/>
<path d="M171.2 419 C170.6 423.5, 162.9 428, 162.9 437.4 A11.8 11.8 0 0 0 186.5 437.4 C186.5 428, 178.8 423.5, 178.2 419"/>
<circle cx="138.80" cy="356.10" r="10.50"/>
<path d="M146.5 362.5 L151.5 367.5 M144 365 L149 370" stroke-width="1.00"/>
<circle cx="174.70" cy="437.30" r="6.60"/>
<line x1="960" y1="282" x2="1246" y2="282" stroke="#d0d0d0" stroke-width="1" stroke-dasharray="18 4 4 4"/>
<line x1="1091.5" y1="150" x2="1091.5" y2="415" stroke="#d0d0d0" stroke-width="1" stroke-dasharray="18 4 4 4"/>
<line x1="70" y1="282" x2="197" y2="282" stroke="#d0d0d0" stroke-width="1" stroke-dasharray="18 4 4 4"/>
<line x1="398" y1="282" x2="481" y2="282" stroke="#d0d0d0" stroke-width="1" stroke-dasharray="18 4 4 4"/>
<line x1="563.5" y1="282" x2="830" y2="282" stroke="#d0d0d0" stroke-width="1" stroke-dasharray="18 4 4 4"/>
<line x1="442" y1="262" x2="472" y2="262" stroke="#d2d2d2" stroke-width="1"/>
<line x1="442" y1="302" x2="472" y2="302" stroke="#d2d2d2" stroke-width="1"/>
<path d="M427.5 390 L427.5 174.5 Q427.5 167.5 434.5 167.5 L624.6 167.5 Q631.6 167.5 631.6 174.5 L631.6 390 Q631.6 397 624.6 397 L434.5 397 Q427.5 397 427.5 390 Z"/>
<line x1="437.40" y1="167.50" x2="437.40" y2="397.00"/>
<line x1="621.30" y1="167.50" x2="621.30" y2="397.00"/>
<rect x="448.90" y="170.70" width="20.20" height="3.30" stroke-width="1.30" fill="#c4c4c4"/>
<rect x="448.90" y="176.30" width="20.20" height="4.00" stroke-width="1.30" fill="#c4c4c4"/>
<rect x="448.90" y="184.50" width="20.20" height="5.00" stroke-width="1.30"/>
<rect x="448.90" y="194.30" width="20.20" height="6.00" stroke-width="1.30"/>
<rect x="448.90" y="205.10" width="20.20" height="7.50" stroke-width="1.30"/>
<rect x="448.90" y="218.60" width="20.20" height="8.40" stroke-width="1.30"/>
<rect x="448.90" y="336.90" width="20.20" height="9.20" stroke-width="1.30"/>
<rect x="448.90" y="351.50" width="20.20" height="7.60" stroke-width="1.30"/>
<rect x="448.90" y="364.30" width="20.20" height="6.60" stroke-width="1.30"/>
<rect x="448.90" y="375.10" width="20.20" height="5.30" stroke-width="1.30"/>
<rect x="448.90" y="384.30" width="20.20" height="4.20" stroke-width="1.30" fill="#c4c4c4"/>
<rect x="448.90" y="389.90" width="20.20" height="4.30" stroke-width="1.30" fill="#c4c4c4"/>
<rect x="589.50" y="171.10" width="20.50" height="2.90" stroke-width="1.30" fill="#c4c4c4"/>
<rect x="589.50" y="176.40" width="20.50" height="3.60" stroke-width="1.30" fill="#c4c4c4"/>
<rect x="589.50" y="184.40" width="20.50" height="5.30" stroke-width="1.30"/>
<rect x="589.50" y="194.10" width="20.50" height="6.40" stroke-width="1.30"/>
<rect x="589.50" y="205.20" width="20.50" height="7.70" stroke-width="1.30"/>
<rect x="589.50" y="218.50" width="20.50" height="8.60" stroke-width="1.30"/>
<rect x="589.50" y="233.50" width="20.50" height="8.90" stroke-width="1.30"/>
<rect x="589.50" y="248.50" width="20.50" height="9.40" stroke-width="1.30"/>
<rect x="589.50" y="265.10" width="20.50" height="9.40" stroke-width="1.30"/>
<rect x="589.50" y="288.60" width="20.50" height="10.70" stroke-width="1.30"/>
<rect x="589.50" y="306.10" width="20.50" height="9.90" stroke-width="1.30"/>
<rect x="589.50" y="321.90" width="20.50" height="9.40" stroke-width="1.30"/>
<rect x="589.50" y="336.90" width="20.50" height="9.00" stroke-width="1.30"/>
<rect x="589.50" y="351.00" width="20.50" height="7.70" stroke-width="1.30"/>
<rect x="589.50" y="364.30" width="20.50" height="6.60" stroke-width="1.30"/>
<rect x="589.50" y="375.10" width="20.50" height="5.30" stroke-width="1.30"/>
<rect x="589.50" y="384.30" width="20.50" height="4.20" stroke-width="1.30" fill="#c4c4c4"/>
<rect x="589.50" y="389.90" width="20.50" height="4.30" stroke-width="1.30" fill="#c4c4c4"/>
<rect x="481.40" y="202.30" width="104.80" height="159.20" stroke-dasharray="7 3.5"/>
<rect x="481.40" y="223.40" width="82.00" height="117.90"/>
<ellipse cx="482.2" cy="186" rx="3.8" ry="1.9"/>
<line x1="482.20" y1="167.50" x2="482.20" y2="181.00" stroke-dasharray="3 3" stroke="#bbb"/>
<rect x="427.50" y="193.20" width="5.10" height="15.20"/>
<line x1="427.50" y1="200.80" x2="432.60" y2="200.80"/>
<rect x="427.50" y="355.80" width="5.10" height="14.80"/>
<line x1="427.50" y1="363.20" x2="432.60" y2="363.20"/>
<rect x="626.30" y="193.20" width="5.30" height="15.20"/>
<line x1="626.30" y1="200.80" x2="631.60" y2="200.80"/>
<rect x="626.30" y="355.80" width="5.30" height="14.80"/>
<line x1="626.30" y1="363.20" x2="631.60" y2="363.20"/>
<rect x="631.60" y="204.10" width="34.80" height="7.80"/>
<line x1="633.50" y1="204.10" x2="633.50" y2="211.90" stroke-width="0.90"/>
<line x1="635.50" y1="204.10" x2="635.50" y2="211.90" stroke-width="0.90"/>
<line x1="637.50" y1="204.10" x2="637.50" y2="211.90" stroke-width="0.90"/>
<line x1="639.50" y1="204.10" x2="639.50" y2="211.90" stroke-width="0.90"/>
<line x1="641.50" y1="204.10" x2="641.50" y2="211.90" stroke-width="0.90"/>
<line x1="643.50" y1="204.10" x2="643.50" y2="211.90" stroke-width="0.90"/>
<line x1="645.50" y1="204.10" x2="645.50" y2="211.90" stroke-width="0.90"/>
<line x1="647.50" y1="204.10" x2="647.50" y2="211.90" stroke-width="0.90"/>
<line x1="649.50" y1="204.10" x2="649.50" y2="211.90" stroke-width="0.90"/>
<line x1="651.50" y1="204.10" x2="651.50" y2="211.90" stroke-width="0.90"/>
<line x1="653.50" y1="204.10" x2="653.50" y2="211.90" stroke-width="0.90"/>
<line x1="655.50" y1="204.10" x2="655.50" y2="211.90" stroke-width="0.90"/>
<line x1="657.50" y1="204.10" x2="657.50" y2="211.90" stroke-width="0.90"/>
<line x1="659.50" y1="204.10" x2="659.50" y2="211.90" stroke-width="0.90"/>
<line x1="661.50" y1="204.10" x2="661.50" y2="211.90" stroke-width="0.90"/>
<line x1="663.50" y1="204.10" x2="663.50" y2="211.90" stroke-width="0.90"/>
<line x1="665.50" y1="204.10" x2="665.50" y2="211.90" stroke-width="0.90"/>
<rect x="631.60" y="352.70" width="34.80" height="7.60"/>
<line x1="633.50" y1="352.70" x2="633.50" y2="360.30" stroke-width="0.90"/>
<line x1="635.50" y1="352.70" x2="635.50" y2="360.30" stroke-width="0.90"/>
<line x1="637.50" y1="352.70" x2="637.50" y2="360.30" stroke-width="0.90"/>
<line x1="639.50" y1="352.70" x2="639.50" y2="360.30" stroke-width="0.90"/>
<line x1="641.50" y1="352.70" x2="641.50" y2="360.30" stroke-width="0.90"/>
<line x1="643.50" y1="352.70" x2="643.50" y2="360.30" stroke-width="0.90"/>
<line x1="645.50" y1="352.70" x2="645.50" y2="360.30" stroke-width="0.90"/>
<line x1="647.50" y1="352.70" x2="647.50" y2="360.30" stroke-width="0.90"/>
<line x1="649.50" y1="352.70" x2="649.50" y2="360.30" stroke-width="0.90"/>
<line x1="651.50" y1="352.70" x2="651.50" y2="360.30" stroke-width="0.90"/>
<line x1="653.50" y1="352.70" x2="653.50" y2="360.30" stroke-width="0.90"/>
<line x1="655.50" y1="352.70" x2="655.50" y2="360.30" stroke-width="0.90"/>
<line x1="657.50" y1="352.70" x2="657.50" y2="360.30" stroke-width="0.90"/>
<line x1="659.50" y1="352.70" x2="659.50" y2="360.30" stroke-width="0.90"/>
<line x1="661.50" y1="352.70" x2="661.50" y2="360.30" stroke-width="0.90"/>
<line x1="663.50" y1="352.70" x2="663.50" y2="360.30" stroke-width="0.90"/>
<line x1="665.50" y1="352.70" x2="665.50" y2="360.30" stroke-width="0.90"/>
<path d="M437.4 251.0 L453.7 251.0 A11 11 0 0 1 453.7 273.0 L437.4 273.0"/>
<path d="M437.4 291.0 L453.7 291.0 A11 11 0 0 1 453.7 313.0 L437.4 313.0"/>
<path d="M409 235.6 L420.8 235.6 L422.5 238 L422.5 326 L420.8 328.5 L409 328.5 L407 325 L407 239 Z"/>
<line x1="411.90" y1="236.00" x2="411.90" y2="328.00"/>
<line x1="418.20" y1="236.00" x2="418.20" y2="328.00"/>
<path d="M422.5 250.4 L427.5 250.4 M422.5 313.7 L427.5 313.7"/>
<path d="M638 235.6 L650.6 235.6 L652.3 239 L652.3 325 L650.6 328.5 L638 328.5 L636.1 326 L636.1 238 Z"/>
<line x1="640.40" y1="236.00" x2="640.40" y2="328.00"/>
<line x1="644.60" y1="236.00" x2="644.60" y2="328.00"/>
<line x1="649.50" y1="236.00" x2="649.50" y2="328.00"/>
<path d="M631.6 250.4 L636.1 250.4 M631.6 313.7 L636.1 313.7"/>
<path d="M652.3 271.5 L671.8 271.5 L674.5 274 L816.6 274 L816.6 292.6 L652.3 292.6"/>
<line x1="407.80" y1="54.00" x2="407.80" y2="236.00"/>
<line x1="817.30" y1="54.00" x2="817.30" y2="262.00"/>
<line x1="595.00" y1="60.50" x2="408.30" y2="60.50"/>
<path d="M408.30 60.50 L421.80 58.00 L421.80 63.00 Z" fill="#8e8e8e" stroke="none"/>
<line x1="629.30" y1="60.50" x2="816.80" y2="60.50"/>
<path d="M816.80 60.50 L803.30 63.00 L803.30 58.00 Z" fill="#8e8e8e" stroke="none"/>
<path d="M603.40 48.30 Q595.65 58.85 603.40 69.40" stroke-width="1.30"/>
<path d="M620.70 48.30 Q628.45 58.85 620.70 69.40" stroke-width="1.30"/>
<text transform="translate(0 64.70) scale(0.8681 1)" x="698.50" font-size="19.57" stroke="#fff" stroke-width="0.06">C</text>
<line x1="426.90" y1="98.40" x2="426.90" y2="160.00"/>
<line x1="631.80" y1="98.40" x2="631.80" y2="160.00"/>
<line x1="512.00" y1="104.60" x2="427.40" y2="104.60"/>
<path d="M427.40 104.60 L440.90 102.10 L440.90 107.10 Z" fill="#8e8e8e" stroke="none"/>
<line x1="546.40" y1="104.60" x2="631.30" y2="104.60"/>
<path d="M631.30 104.60 L617.80 107.10 L617.80 102.10 Z" fill="#8e8e8e" stroke="none"/>
<path d="M520.50 93.00 Q512.75 103.10 520.50 113.20" stroke-width="1.30"/>
<path d="M537.90 93.00 Q545.65 103.10 537.90 113.20" stroke-width="1.30"/>
<text transform="translate(0 108.75) scale(0.9031 1)" x="580.35" font-size="18.62" stroke="none">A</text>
<line x1="650.70" y1="98.40" x2="650.70" y2="236.00"/>
<line x1="653.30" y1="131.00" x2="653.30" y2="271.00"/>
<line x1="710.50" y1="104.20" x2="651.20" y2="104.20"/>
<path d="M651.20 104.20 L664.70 101.70 L664.70 106.70 Z" fill="#8e8e8e" stroke="none"/>
<line x1="757.50" y1="104.20" x2="816.80" y2="104.20"/>
<path d="M816.80 104.20 L803.30 106.70 L803.30 101.70 Z" fill="#8e8e8e" stroke="none"/>
<text transform="translate(0 111.40) scale(1.0000 1)" x="713.99 725.43 731.51 743.08" font-size="20.43" stroke="#fff" stroke-width="0.14">4.06</text>
<line x1="711.50" y1="137.30" x2="653.80" y2="137.30"/>
<path d="M653.80 137.30 L667.30 134.80 L667.30 139.80 Z" fill="#8e8e8e" stroke="none"/>
<line x1="759.00" y1="137.30" x2="816.80" y2="137.30"/>
<path d="M816.80 137.30 L803.30 139.80 L803.30 134.80 Z" fill="#8e8e8e" stroke="none"/>
<text transform="translate(0 144.60) scale(1.0000 1)" x="715.09 726.64 732.78 744.45" font-size="20.29" stroke="#fff" stroke-width="0.13">4.00</text>
<line x1="673.80" y1="184.70" x2="673.80" y2="269.00"/>
<line x1="721.50" y1="190.60" x2="674.30" y2="190.60"/>
<path d="M674.30 190.60 L687.80 188.10 L687.80 193.10 Z" fill="#8e8e8e" stroke="none"/>
<line x1="769.00" y1="190.60" x2="816.80" y2="190.60"/>
<path d="M816.80 190.60 L803.30 193.10 L803.30 188.10 Z" fill="#8e8e8e" stroke="none"/>
<text transform="translate(0 197.50) scale(1.0000 1)" x="724.80 736.56 742.81 754.70" font-size="20.00" stroke="#fff" stroke-width="0.10">3.50</text>
<text transform="translate(0 212.80) scale(0.8000 1)" x="903.59 915.23 928.62 940.93" font-size="17.68" stroke="none">FULL</text>
<text transform="translate(0 230.50) scale(0.8000 1)" x="903.60 916.29 928.08 940.78" font-size="17.54" stroke="none">FLAT</text>
<line x1="482.20" y1="130.00" x2="482.20" y2="167.50"/>
<line x1="507.80" y1="137.20" x2="482.70" y2="137.20"/>
<path d="M482.70 137.20 L496.20 134.70 L496.20 139.70 Z" fill="#8e8e8e" stroke="none"/>
<line x1="381.60" y1="137.20" x2="407.30" y2="137.20"/>
<path d="M407.30 137.20 L393.80 139.70 L393.80 134.70 Z" fill="#8e8e8e" stroke="none"/>
<text transform="translate(0 144.50) scale(1.0000 1)" x="433.62 444.29 450.58 462.25" font-size="19.71" stroke="#fff" stroke-width="0.07">1.82</text>
<line x1="414.60" y1="100.00" x2="414.60" y2="236.00" stroke="#c8c8c8"/>
<line x1="376.00" y1="175.80" x2="407.30" y2="175.80"/>
<path d="M407.30 175.80 L393.80 178.30 L393.80 173.30 Z" fill="#8e8e8e" stroke="none"/>
<line x1="440.20" y1="175.70" x2="415.10" y2="175.70"/>
<path d="M415.10 175.70 L428.60 173.20 L428.60 178.20 Z" fill="#8e8e8e" stroke="none"/>
<text transform="translate(0 182.60) scale(1.0000 1)" x="345.99 351.02 362.92" font-size="18.99" stroke="none">.19</text>
<line x1="307.70" y1="236.00" x2="397.60" y2="236.00"/>
<line x1="337.60" y1="234.40" x2="397.60" y2="234.40" stroke-width="0.90"/>
<path d="M356.8 203.5 L344.5 203.5 L344.5 233.8"/>
<path d="M344.50 233.80 L342.00 220.30 L347.00 220.30 Z" fill="#8e8e8e" stroke="none"/>
<line x1="344.50" y1="237.50" x2="344.50" y2="263.00"/>
<path d="M344.50 237.50 L347.00 251.00 L342.00 251.00 Z" fill="#8e8e8e" stroke="none"/>
<text transform="translate(0 209.60) scale(1.0000 1)" x="359.18 366.36 380.14" font-size="19.13" stroke="none">.03</text>
<line x1="314.00" y1="237.00" x2="314.00" y2="271.60"/>
<path d="M314.00 236.60 L316.50 250.10 L311.50 250.10 Z" fill="#8e8e8e" stroke="none"/>
<line x1="314.00" y1="293.00" x2="314.00" y2="327.80"/>
<path d="M314.00 328.00 L311.50 314.50 L316.50 314.50 Z" fill="#8e8e8e" stroke="none"/>
<line x1="308.00" y1="328.40" x2="395.50" y2="328.40"/>
<circle cx="292.50" cy="282.70" r="4.50" stroke-width="1.30"/>
<line x1="289.80" y1="288.80" x2="295.30" y2="276.50" stroke-width="1.30"/>
<text transform="translate(0 289.30) scale(1.0000 1)" x="298.69 310.81 317.20 329.35" font-size="20.29" stroke="#fff" stroke-width="0.13">2.25</text>
<text transform="translate(0 357.90) scale(0.8000 1)" x="348.06 359.61 372.49 384.12 397.34 415.14 421.61" font-size="16.38" stroke="none">LEADS &amp;</text>
<text transform="translate(0 374.40) scale(0.8000 1)" x="348.02 359.93 372.58 384.33 397.90 404.26 416.17 428.99" font-size="16.96" stroke="none">BUSHINGS</text>
<line x1="354.00" y1="352.60" x2="368.50" y2="352.60"/>
<line x1="368.50" y1="352.60" x2="453.50" y2="269.40"/>
<path d="M453.50 269.40 L445.60 280.63 L442.10 277.06 Z" fill="#8e8e8e" stroke="none"/>
<line x1="368.50" y1="352.60" x2="452.00" y2="307.40"/>
<path d="M452.00 307.40 L441.32 316.03 L438.94 311.63 Z" fill="#8e8e8e" stroke="none"/>
<line x1="408.70" y1="341.60" x2="408.70" y2="432.80"/>
<line x1="412.50" y1="341.60" x2="412.50" y2="432.80"/>
<line x1="418.30" y1="341.60" x2="418.30" y2="432.80"/>
<line x1="422.10" y1="341.60" x2="422.10" y2="432.80"/>
<line x1="383.00" y1="407.90" x2="408.20" y2="407.90"/>
<path d="M408.20 407.90 L394.70 410.40 L394.70 405.40 Z" fill="#8e8e8e" stroke="none"/>
<line x1="440.00" y1="407.90" x2="422.60" y2="407.90"/>
<path d="M422.60 407.90 L436.10 405.40 L436.10 410.40 Z" fill="#8e8e8e" stroke="none"/>
<line x1="383.00" y1="425.90" x2="412.00" y2="425.90"/>
<path d="M412.00 425.90 L398.50 428.40 L398.50 423.40 Z" fill="#8e8e8e" stroke="none"/>
<line x1="440.00" y1="425.90" x2="418.80" y2="425.90"/>
<path d="M418.80 425.90 L432.30 423.40 L432.30 428.40 Z" fill="#8e8e8e" stroke="none"/>
<text transform="translate(0 414.60) scale(1.0000 1)" x="354.94 361.57 372.11" font-size="18.41" stroke="none">.31</text>
<text transform="translate(0 432.60) scale(1.0000 1)" x="354.85 359.83 371.60" font-size="19.42" stroke="none">.16</text>
<text transform="translate(0 457.40) scale(0.8000 1)" x="523.62 536.28 549.92 563.02 576.22 589.15 603.31 616.97 623.30 636.93" font-size="17.68" stroke="none">CONNECTION</text>
<text transform="translate(0 475.50) scale(0.8000 1)" x="523.07 537.04 550.36 564.50 578.55 592.42 604.20 618.07 632.03 644.63" font-size="17.83" stroke="none">DECAL–READ</text>
<text transform="translate(0 493.60) scale(0.8000 1)" x="523.09 535.35 548.24 561.64 582.53 589.97 602.91 609.12 622.18 634.98" font-size="17.68" stroke="none">FROM T.END</text>
<line x1="525.60" y1="452.20" x2="538.00" y2="452.20"/>
<line x1="538.00" y1="452.20" x2="508.00" y2="337.60"/>
<path d="M508.00 337.60 L513.84 350.03 L509.00 351.29 Z" fill="#8e8e8e" stroke="none"/>
<text transform="translate(0 100.60) scale(0.8000 1)" x="188.06 200.40 211.52 224.95 236.89 249.54 260.92 273.18 284.23 301.49 308.27 318.69 330.95 343.57 354.56 359.04" font-size="17.97" stroke="none">NAMEPLATE LOC. @</text>
<text transform="translate(0 116.60) scale(0.8000 1)" x="188.60 193.32 206.69 216.98 222.57 234.76 247.04 258.11 275.79 282.19 293.26 304.89 316.99 335.85 342.56 354.25 359.85 372.34" font-size="17.97" stroke="none">'C' READ FROM T.E.</text>
<text transform="translate(0 132.60) scale(0.8000 1)" x="189.50 203.91 216.00 227.92 245.48 252.27 262.23 276.16 294.20 300.26 312.59 323.86 337.00 353.66 359.56 372.27 378.01 390.56" font-size="16.81" stroke="none">WHEN TWO PART N.P.</text>
<text transform="translate(0 149.60) scale(0.8000 1)" x="187.88 194.41 211.14 216.82 229.00 240.40 251.72 269.16 274.84 286.71 298.35 310.93 321.86 333.26 350.62 355.04 371.39 376.05 389.23" font-size="17.97" stroke="none">IS USED CENTER @'C'</text>
<line x1="309.60" y1="95.00" x2="335.20" y2="95.00"/>
<line x1="335.20" y1="95.00" x2="508.00" y2="222.00"/>
<path d="M508.00 222.00 L495.64 216.02 L498.60 211.99 Z" fill="#8e8e8e" stroke="none"/>
<line x1="663.00" y1="246.30" x2="663.00" y2="271.00"/>
<path d="M663.00 271.00 L660.50 257.50 L665.50 257.50 Z" fill="#8e8e8e" stroke="none"/>
<line x1="663.00" y1="318.30" x2="663.00" y2="293.10"/>
<path d="M663.00 293.10 L665.50 306.60 L660.50 306.60 Z" fill="#8e8e8e" stroke="none"/>
<line x1="663.00" y1="318.30" x2="675.60" y2="318.30"/>
<line x1="805.50" y1="248.60" x2="805.50" y2="273.50"/>
<path d="M805.50 273.50 L803.00 260.00 L808.00 260.00 Z" fill="#8e8e8e" stroke="none"/>
<line x1="805.50" y1="318.30" x2="805.50" y2="293.10"/>
<path d="M805.50 293.10 L808.00 306.60 L803.00 306.60 Z" fill="#8e8e8e" stroke="none"/>
<line x1="792.90" y1="318.30" x2="805.50" y2="318.30"/>
<text transform="translate(0 316.00) scale(1.0000 1)" x="677.79 684.49 697.24 709.98 722.73" font-size="18.99" stroke="none">.5000</text>
<text transform="translate(0 316.00) scale(1.0000 1)" x="746.09 752.93 765.61 778.52" font-size="18.99" stroke="none">.453</text>
<text transform="translate(0 333.10) scale(1.0000 1)" x="677.79 684.60 697.24 709.98 722.73" font-size="18.99" stroke="none">.4995</text>
<text transform="translate(0 333.10) scale(1.0000 1)" x="746.09 752.95 765.79 778.52" font-size="18.99" stroke="none">.447</text>
<line x1="708.50" y1="388.60" x2="697.90" y2="388.60"/>
<line x1="697.90" y1="388.60" x2="667.20" y2="360.60"/>
<path d="M667.20 360.60 L678.86 367.85 L675.49 371.54 Z" fill="#8e8e8e" stroke="none"/>
<text transform="translate(0 395.20) scale(0.8000 1)" x="888.29 902.33 916.56 930.59 949.73 956.58 970.81" font-size="17.68" stroke="none">8–32 UN</text>
<line x1="735.40" y1="441.00" x2="723.80" y2="441.00"/>
<line x1="723.80" y1="441.00" x2="628.50" y2="392.80"/>
<path d="M628.50 392.80 L641.68 396.66 L639.42 401.12 Z" fill="#8e8e8e" stroke="none"/>
<text transform="translate(0 448.00) scale(0.8000 1)" x="923.37 937.27 950.37 963.47 982.76 989.41 1002.16 1015.53 1029.79 1042.77" font-size="17.68" stroke="none">OPEN BRKT.</text>
<text transform="translate(0 466.60) scale(0.8000 1)" x="922.91 936.92 949.83 963.47 983.29 990.04 1003.50 1016.69" font-size="16.81" stroke="none">EACH END</text>
<line x1="631.30" y1="405.80" x2="631.30" y2="464.40"/>
<line x1="666.20" y1="373.20" x2="666.20" y2="464.40"/>
<line x1="606.70" y1="458.30" x2="630.80" y2="458.30"/>
<path d="M630.80 458.30 L617.30 460.80 L617.30 455.80 Z" fill="#8e8e8e" stroke="none"/>
<line x1="691.80" y1="458.30" x2="666.70" y2="458.30"/>
<path d="M666.70 458.30 L680.20 455.80 L680.20 460.80 Z" fill="#8e8e8e" stroke="none"/>
<text transform="translate(0 455.70) scale(1.0000 1)" x="633.21 640.24 653.61" font-size="17.68" stroke="none">.75</text>
<text transform="translate(0 472.90) scale(1.0000 1)" x="633.22 640.17 653.51" font-size="17.54" stroke="none">.94</text>
<text transform="translate(0 437.00) scale(0.8000 1)" x="55.37 69.08 82.51 96.68 110.49 123.83" font-size="17.54" stroke="none">GROUND</text>
<text transform="translate(0 455.00) scale(0.8000 1)" x="54.85 66.56 79.65 91.45" font-size="17.54" stroke="none">LEAD</text>
<line x1="114.90" y1="431.20" x2="161.70" y2="431.20"/>
<path d="M161.70 431.20 L148.20 433.70 L148.20 428.70 Z" fill="#8e8e8e" stroke="none"/>
<text transform="translate(0 484.40) scale(0.8000 1)" x="55.85 69.40 83.54 98.04 115.25 128.72 135.96 150.39 164.53" font-size="20.00" stroke="#fff" stroke-width="0.10">TERM. END</text>
<line x1="40.90" y1="487.60" x2="148.60" y2="487.60"/>
<line x1="49.60" y1="490.80" x2="136.60" y2="490.80" stroke-width="0.80"/>
<line x1="975.80" y1="64.80" x2="975.80" y2="264.00"/>
<line x1="1206.80" y1="64.80" x2="1206.80" y2="273.70"/>
<line x1="1053.30" y1="71.50" x2="976.30" y2="71.50"/>
<path d="M976.30 71.50 L989.80 69.00 L989.80 74.00 Z" fill="#8e8e8e" stroke="none"/>
<line x1="1128.40" y1="71.50" x2="1206.30" y2="71.50"/>
<path d="M1206.30 71.50 L1192.80 74.00 L1192.80 69.00 Z" fill="#8e8e8e" stroke="none"/>
<path d="M1061.60 60.60 Q1053.85 70.60 1061.60 80.60" stroke-width="1.30"/>
<path d="M1120.40 60.60 Q1128.15 70.60 1120.40 80.60" stroke-width="1.30"/>
<circle cx="1070.10" cy="70.80" r="4.20" stroke-width="1.30"/>
<line x1="1067.00" y1="77.00" x2="1073.50" y2="64.30" stroke-width="1.30"/>
<text transform="translate(0 76.60) scale(1.0000 1)" x="1076.77 1088.38 1094.49 1106.13" font-size="20.72" stroke="#fff" stroke-width="0.17">5.66</text>
<path d="M1174.29 156.92 A150.00 150.00 0 0 0 1107.18 132.82"/>
<path d="M1073.22 133.12 A150.00 150.00 0 0 0 1008.71 156.92"/>
<path d="M1174.29 156.92 L1161.43 152.11 L1164.01 147.82 Z" fill="#8e8e8e" stroke="none"/>
<line x1="1155.52" y1="185.27" x2="1178.15" y2="151.08" stroke="#d2d2d2" stroke-width="1"/>
<path d="M1008.71 156.92 L1018.99 147.82 L1021.57 152.11 Z" fill="#8e8e8e" stroke="none"/>
<line x1="1027.48" y1="185.27" x2="1004.85" y2="151.08" stroke="#d2d2d2" stroke-width="1"/>
<text transform="translate(0 139.00) scale(1.1200 1)" x="960.35 971.30" font-size="19.86" stroke="#fff" stroke-width="0.09">67</text>
<circle cx="1103.00" cy="127.00" r="1.30" stroke-width="1.30"/>
<text transform="translate(0 159.10) scale(0.8828 1)" x="1217.89" font-size="14.35" stroke="none">D</text>
<path d="M1195.44 178.06 A147.00 147.00 0 0 1 1223.62 217.56"/>
<path d="M1231.07 235.84 A147.00 147.00 0 0 1 1238.50 282.00"/>
<path d="M1238.50 282.00 A147.00 147.00 0 0 1 1230.07 331.07"/>
<path d="M1222.48 348.74 A147.00 147.00 0 0 1 1195.44 385.94"/>
<path d="M1195.44 178.06 L1206.41 186.32 L1202.72 189.70 Z" fill="#8e8e8e" stroke="none"/>
<path d="M1238.50 282.00 L1235.41 268.62 L1240.41 268.40 Z" fill="#8e8e8e" stroke="none"/>
<path d="M1238.50 282.00 L1240.41 295.60 L1235.41 295.38 Z" fill="#8e8e8e" stroke="none"/>
<path d="M1195.44 385.94 L1202.72 374.30 L1206.41 377.68 Z" fill="#8e8e8e" stroke="none"/>
<line x1="1174.23" y1="199.27" x2="1186.25" y2="187.25" stroke="#d2d2d2" stroke-width="1"/>
<line x1="1191.20" y1="182.30" x2="1200.04" y2="173.46" stroke-width="1.40"/>
<line x1="1174.23" y1="364.73" x2="1186.25" y2="376.75" stroke="#d2d2d2" stroke-width="1"/>
<line x1="1191.20" y1="381.70" x2="1200.04" y2="390.54" stroke-width="1.40"/>
<line x1="1230.00" y1="282.00" x2="1246.00" y2="282.00"/>
<text transform="translate(0 232.00) scale(1.1000 1)" x="1102.52 1113.54" font-size="19.42" stroke="none">45</text>
<circle cx="1239.60" cy="220.40" r="1.30" stroke-width="1.30"/>
<text transform="translate(0 345.80) scale(1.1000 1)" x="1102.52 1113.46" font-size="19.57" stroke="#fff" stroke-width="0.06">45</text>
<circle cx="1239.60" cy="334.10" r="1.30" stroke-width="1.30"/>
<text transform="translate(0 279.70) scale(0.7056 1)" x="1714.27" font-size="15.07" stroke="none">C</text>
<line x1="1008.78" y1="267.41" x2="930.98" y2="253.70" stroke="#d2d2d2" stroke-width="1"/>
<line x1="1008.78" y1="296.59" x2="930.98" y2="310.30" stroke="#d2d2d2" stroke-width="1"/>
<line x1="928.00" y1="253.00" x2="947.00" y2="256.40"/>
<line x1="928.00" y1="311.00" x2="947.00" y2="307.60"/>
<line x1="925.50" y1="282.00" x2="951.00" y2="282.00"/>
<line x1="932.50" y1="254.60" x2="932.50" y2="310.20"/>
<path d="M932.50 254.60 L935.00 268.10 L930.00 268.10 Z" fill="#8e8e8e" stroke="none"/>
<path d="M932.50 280.50 L930.00 267.00 L935.00 267.00 Z" fill="#8e8e8e" stroke="none"/>
<path d="M932.50 283.50 L935.00 297.00 L930.00 297.00 Z" fill="#8e8e8e" stroke="none"/>
<path d="M932.50 310.20 L930.00 296.70 L935.00 296.70 Z" fill="#8e8e8e" stroke="none"/>
<text transform="translate(0 245.50) scale(1.0000 1)" x="923.36 934.78" font-size="19.28" stroke="none">10</text>
<circle cx="948.90" cy="233.60" r="1.30" stroke-width="1.30"/>
<text transform="translate(0 328.90) scale(1.0000 1)" x="923.36 934.78" font-size="19.28" stroke="none">10</text>
<circle cx="948.90" cy="317.00" r="1.30" stroke-width="1.30"/>
<text transform="translate(0 278.40) scale(0.8364 1)" x="1150.93" font-size="13.04" stroke="none">A</text>
<text transform="translate(0 156.10) scale(1.0000 1)" x="888.96 892.62 901.26 910.78" font-size="17.10" stroke="none">.129</text>
<text transform="translate(0 156.10) scale(0.8000 1)" x="1161.38 1174.13 1180.41 1191.75" font-size="17.10" stroke="none">DIA.</text>
<text transform="translate(0 172.60) scale(0.8625 1)" x="1032.29" font-size="17.39" stroke="none">2</text>
<text transform="translate(0 172.60) scale(0.8000 1)" x="1134.36 1145.68 1158.92 1169.85 1181.97" font-size="17.39" stroke="none">HOLES</text>
<line x1="956.50" y1="149.60" x2="962.00" y2="149.60"/>
<line x1="962.00" y1="149.60" x2="1026.60" y2="185.80"/>
<path d="M1026.60 185.80 L1013.60 181.38 L1016.05 177.02 Z" fill="#8e8e8e" stroke="none"/>
<line x1="1093.00" y1="285.50" x2="1164.70" y2="417.00"/>
<path d="M1133.50 359.50 L1142.12 370.18 L1137.72 372.56 Z" fill="#8e8e8e" stroke="none"/>
<line x1="1164.70" y1="417.00" x2="1177.80" y2="417.00"/>
<text transform="translate(0 423.30) scale(1.0000 1)" x="1179.78 1194.03 1206.28 1212.74 1225.02" font-size="18.99" stroke="none">R2.56</text>
<text transform="translate(0 411.80) scale(0.9787 1)" x="1115.67" font-size="13.62" stroke="none">B</text>
<line x1="0.00" y1="573.80" x2="265.90" y2="573.80"/>
<line x1="0.00" y1="602.10" x2="265.90" y2="602.10" stroke-width="2.50"/>
<line x1="0.00" y1="631.60" x2="265.90" y2="631.60"/>
<line x1="0.00" y1="661.10" x2="265.90" y2="661.10"/>
<line x1="0.00" y1="690.60" x2="265.90" y2="690.60"/>
<line x1="0.00" y1="720.50" x2="265.90" y2="720.50"/>
<line x1="0.00" y1="750.10" x2="265.90" y2="750.10"/>
<line x1="60.40" y1="573.80" x2="60.40" y2="776.50"/>
<line x1="128.80" y1="573.80" x2="128.80" y2="776.50"/>
<line x1="198.00" y1="573.80" x2="198.00" y2="776.50"/>
<line x1="265.90" y1="573.80" x2="265.90" y2="776.50"/>
<text transform="translate(0 594.80) scale(0.9500 1)" x="-2.05 12.13 25.15 37.74" font-size="18.99" stroke="none">DASH</text>
<text transform="translate(0 594.80) scale(0.8611 1)" x="179.86" font-size="18.99" stroke="none">C</text>
<text transform="translate(0 594.80) scale(0.8300 1)" x="270.13" font-size="18.99" stroke="none">A</text>
<text transform="translate(0 625.80) scale(1.0000 1)" x="5.85 17.43 29.10" font-size="21.16" stroke="#fff" stroke-width="0.20">375</text>
<text transform="translate(0 625.80) scale(1.0000 1)" x="134.64 146.41 152.60 164.40" font-size="21.16" stroke="#fff" stroke-width="0.20">9.25</text>
<text transform="translate(0 625.80) scale(1.0000 1)" x="208.78 220.27 226.38 238.00" font-size="21.16" stroke="#fff" stroke-width="0.20">4.25</text>
<text transform="translate(0 655.20) scale(1.0000 1)" x="6.28 17.64 29.10" font-size="21.16" stroke="#fff" stroke-width="0.20">400</text>
<text transform="translate(0 655.20) scale(1.0000 1)" x="134.64 146.41 152.60 164.40" font-size="21.16" stroke="#fff" stroke-width="0.20">9.50</text>
<text transform="translate(0 655.20) scale(1.0000 1)" x="208.78 220.27 226.38 238.00" font-size="21.16" stroke="#fff" stroke-width="0.20">4.50</text>
<text transform="translate(0 684.60) scale(1.0000 1)" x="6.28 17.64 29.10" font-size="21.16" stroke="#fff" stroke-width="0.20">425</text>
<text transform="translate(0 684.60) scale(1.0000 1)" x="134.64 146.41 152.60 164.40" font-size="21.16" stroke="#fff" stroke-width="0.20">9.75</text>
<text transform="translate(0 684.60) scale(1.0000 1)" x="208.78 220.27 226.38 238.00" font-size="21.16" stroke="#fff" stroke-width="0.20">4.75</text>
<text transform="translate(0 714.60) scale(1.0000 1)" x="6.28 17.64 29.10" font-size="21.16" stroke="#fff" stroke-width="0.20">475</text>
<text transform="translate(0 714.60) scale(1.0000 1)" x="134.01 144.70 156.44 162.63 174.40" font-size="21.16" stroke="#fff" stroke-width="0.20">10.25</text>
<text transform="translate(0 714.60) scale(1.0000 1)" x="208.35 220.07 226.25 238.00" font-size="21.16" stroke="#fff" stroke-width="0.20">5.25</text>
<text transform="translate(0 742.20) scale(1.0000 1)" x="6.28 17.79 29.31" font-size="21.16" stroke="#fff" stroke-width="0.20">488</text>
<text transform="translate(0 742.20) scale(1.0000 1)" x="134.01 144.73 156.51 162.81 174.61" font-size="21.16" stroke="#fff" stroke-width="0.20">10.38</text>
<text transform="translate(0 742.20) scale(1.0000 1)" x="208.35 220.12 226.42 238.21" font-size="21.16" stroke="#fff" stroke-width="0.20">5.38</text>
<text transform="translate(0 768.80) scale(1.0000 1)" x="5.85 17.48 29.10" font-size="21.16" stroke="#fff" stroke-width="0.20">500</text>
<text transform="translate(0 768.80) scale(1.0000 1)" x="134.01 144.70 156.44 162.63 174.40" font-size="21.16" stroke="#fff" stroke-width="0.20">10.50</text>
<text transform="translate(0 768.80) scale(1.0000 1)" x="208.35 220.07 226.25 238.00" font-size="21.16" stroke="#fff" stroke-width="0.20">5.50</text>
<text stroke="none" stroke="none" transform="translate(259.0 626.50) rotate(-44)" font-size="11.8" textLength="44" lengthAdjust="spacingAndGlyphs">9/20/08</text>
<text stroke="none" stroke="none" transform="translate(259.0 655.20) rotate(-44)" font-size="11.8" textLength="44" lengthAdjust="spacingAndGlyphs">9/20/08</text>
<text stroke="none" stroke="none" transform="translate(259.0 684.90) rotate(-44)" font-size="11.8" textLength="44" lengthAdjust="spacingAndGlyphs">9/20/08</text>
<text stroke="none" stroke="none" transform="translate(259.0 742.50) rotate(-44)" font-size="11.8" textLength="44" lengthAdjust="spacingAndGlyphs">9/20/08</text>
<text transform="translate(0 541.80) scale(0.8000 1)" x="394.38 405.52 417.96 429.18 447.09 452.68 465.12 477.47 489.02 500.89 514.56 521.02 533.78 546.32 552.13 564.64 577.38" font-size="17.10" stroke="none">LEAD DESCRIPTION:</text>
<text transform="translate(0 574.60) scale(0.8000 1)" x="394.77 409.94 414.71 429.19 442.65 449.85 461.10 473.78 484.96 490.54 505.71 511.80 524.67 536.24 547.73 559.79 572.63 583.81 589.39 604.56 610.65 623.52 634.52 646.75 659.43 670.61 676.86 694.16 699.74 714.91 720.60 732.98 744.63 757.72 768.90 775.80 786.96 799.43 810.67 828.63 833.40 849.28 856.48 867.65" font-size="16.96" stroke="none">1 WHITE, 1 BLACK, 1 BLUE, &amp; 1 RED, LEAD WITH</text>
<text transform="translate(0 592.10) scale(0.8000 1)" x="394.22 401.15 413.24 429.61 435.72 448.13 459.49 471.91 489.50 494.28 510.21 516.29 528.70 546.30 552.65 565.23 576.18 589.92 596.41 609.04 620.25 627.57 639.58 651.07 658.00 670.09 681.01 692.79 699.71 710.33 722.91 734.76" font-size="16.96" stroke="none">.50 BARE WIRE STRIP. 30.00&quot; LONG</text>
<text transform="translate(0 625.80) scale(0.8000 1)" x="395.26 411.79 417.96 429.76 441.73 453.26 467.93 485.78 492.77 504.08 516.70 528.09 541.05 558.49 563.32 579.40 586.70 598.01 615.86 622.57 629.57 641.78 658.32 664.90 677.53 689.24 700.72 714.49 726.29 738.10 749.98 762.11 779.88 785.39 798.01 811.73 818.04 830.25 848.19 854.11 865.91 878.62 890.83 903.12 915.17 928.37 940.09" font-size="17.39" stroke="none">2 BROWN LEADS WITH .25 FLAG–TYPE QUICK CONNECTS</text>
<text transform="translate(0 642.40) scale(0.8000 1)" x="395.45 407.65 419.32 426.35 438.64 449.73 461.69 468.72 479.52 492.29 504.33 517.57 528.96 535.16 547.03 559.06 570.66 585.41 600.90 614.79 619.65 634.39 648.10 655.44 666.89 684.77 690.53 704.87 716.40 728.85 741.30 753.17 771.45 778.48 789.85 802.55 814.00 832.29 839.76 846.60 864.14 870.09 881.96 894.47 908.04 921.38 934.15 952.11 959.06 969.93 988.39 993.24 1007.99 1021.70 1029.04 1040.49 1053.40" font-size="16.96" stroke="none">30.00&quot; LONG. BROWN/ WHITE MARKED LEAD IS COMMON TO WHITE.</text>
<text transform="translate(0 676.20) scale(0.8000 1)" x="394.84 407.19 419.54 431.25 442.95 455.63 468.65 474.95 486.73 504.56 511.45 522.58 535.02 546.24 558.99 576.18 582.57 593.87 606.22 623.73 629.38 642.44 655.93 666.66 679.10 690.72 708.63 715.94 722.24 735.16 745.81 763.88 769.53 783.56 796.00 808.54 814.83 826.61" font-size="16.09" stroke="none">REVERSING LEADS ARE MOLDED INTO MATING</text>
<text transform="translate(0 693.00) scale(0.8000 1)" x="394.84 406.89 420.27 432.57 445.20 456.68 468.64 481.28 492.83 506.29 523.37 529.58 542.71 553.93 566.07 579.03 591.63 603.04 608.73 624.21 630.75 642.64 655.85 668.15 678.96 690.58 711.03 717.41 735.06 740.75 756.23 762.44 774.49 786.63 799.35 812.48 823.87" font-size="16.09" stroke="none">PULL–APART PLUGS. 1 YELLOW &amp; 1 PURPLE</text>
<text transform="translate(0 710.10) scale(0.8000 1)" x="394.81 406.18 418.87 430.32 448.61 454.81 467.00 478.95 497.15 503.35 516.45 527.65 539.77 553.01 564.39 571.75 583.42 590.45 602.73 613.82 625.78 632.81 643.59 656.37 668.40 681.64" font-size="16.38" stroke="none">LEAD PER PLUG. 5.00&quot; LONG.</text>
<text transform="translate(0 744.00) scale(0.8000 1)" x="395.27 407.45 419.96 432.14 444.24 462.05 467.79 479.97 491.91 504.50 516.77 528.62 546.76 553.73 565.01 577.60 588.96 607.10 611.92 627.96 635.24 646.51 664.32 671.21 682.57 694.43 706.59 721.02 732.31 738.88 749.99 762.42" font-size="17.10" stroke="none">GREEN GROUND LEAD WITH TERM. FOR</text>
<text transform="translate(0 760.40) scale(0.8000 1)" x="396.12 406.75 417.95 434.74 441.25 453.15 465.38 478.11 489.24 509.85 515.59 526.80 538.58 545.68 558.08 569.28 581.36 588.45 599.35 612.25 624.39 637.76" font-size="16.38" stroke="none">#10 SCREW 12.00&quot; LONG.</text>
<line x1="872.10" y1="557.10" x2="1280.00" y2="557.10"/>
<line x1="872.10" y1="557.10" x2="872.10" y2="776.50"/>
<path d="M895.7 563.3 A112 112 0 0 1 924 738.5"/>
<line x1="935.50" y1="600.70" x2="976.50" y2="574.40"/>
<line x1="942.00" y1="612.80" x2="976.50" y2="596.40"/>
<line x1="947.00" y1="626.00" x2="976.50" y2="616.10"/>
<line x1="951.90" y1="642.40" x2="978.00" y2="635.80"/>
<line x1="953.50" y1="662.00" x2="978.00" y2="662.00"/>
<line x1="953.50" y1="672.90" x2="978.00" y2="683.40"/>
<line x1="951.90" y1="682.70" x2="978.00" y2="699.80"/>
<line x1="948.60" y1="692.60" x2="978.00" y2="729.60"/>
<line x1="947.00" y1="702.40" x2="976.50" y2="745.00"/>
<text transform="translate(0 661.60) scale(0.8000 1)" x="1095.46 1113.23 1131.46 1145.95 1162.64" font-size="20.87" stroke="#fff" stroke-width="0.18">MOTOR</text>
<text transform="translate(0 578.50) scale(0.8000 1)" x="1225.70 1237.49 1249.44 1260.96 1275.61" font-size="16.23" stroke="none">BROWN</text>
<text transform="translate(0 598.80) scale(0.8000 1)" x="1225.63 1236.47 1247.46 1258.06 1271.53 1285.68 1292.11 1305.58 1318.10 1324.80 1335.26 1351.59 1357.48 1369.15 1379.31 1392.06 1398.08 1409.23" font-size="17.10" stroke="none">BROWN/WHITE STRIPE</text>
<text transform="translate(0 617.80) scale(0.8000 1)" x="1227.00 1238.85 1249.87 1255.77 1264.98" font-size="17.10" stroke="none">WHITE</text>
<text transform="translate(0 632.60) scale(0.8000 1)" x="1225.70 1238.03 1249.11 1260.12 1271.67 1288.63 1295.56 1311.20 1316.87 1329.77 1335.58 1347.36" font-size="16.23" stroke="none">BLACK – HIGH</text>
<text transform="translate(0 648.80) scale(0.8000 1)" x="1225.66 1238.06 1248.67 1260.45 1277.37 1284.34 1300.08 1305.54 1318.71 1329.94" font-size="16.81" stroke="none">BLUE – MED</text>
<text transform="translate(0 667.80) scale(0.8000 1)" x="1225.62 1237.15 1248.00 1264.71 1271.44 1286.65 1293.07 1302.94 1313.54" font-size="17.25" stroke="none">RED – LOW</text>
<text transform="translate(0 689.10) scale(0.8000 1)" x="1225.54 1236.18 1246.89 1258.11 1269.69 1279.75" font-size="18.26" stroke="none">PURPLE</text>
<text transform="translate(0 703.80) scale(0.8000 1)" x="1226.66 1236.30 1247.01 1256.99 1265.75 1275.17" font-size="17.10" stroke="none">YELLOW</text>
<text transform="translate(0 734.00) scale(0.8000 1)" x="1226.63 1236.06 1246.54 1256.30 1264.87 1274.08" font-size="18.26" stroke="none">YELLOW</text>
<text transform="translate(0 749.10) scale(0.8000 1)" x="1225.52 1236.12 1246.80 1257.99 1269.54 1279.56" font-size="18.55" stroke="none">PURPLE</text>
<text transform="translate(0 773.40) scale(0.8000 1)" x="1108.92 1119.83 1132.25 1143.01 1154.52 1166.13 1171.51 1183.10 1194.89" font-size="15.07" stroke="none">ROTATION:</text>
<text transform="translate(0 773.40) scale(0.8000 1)" x="1225.37 1236.78 1247.17 1266.13 1272.66 1283.22 1295.02 1305.65 1322.64 1328.32 1339.65 1350.75" font-size="15.07" stroke="none">CCW LEAD END</text>
<text transform="translate(0 773.40) scale(0.8000 1)" x="1437.50 1447.91 1466.92 1473.47 1484.06 1495.88 1506.54 1523.57 1529.27 1540.62 1551.75" font-size="15.07" stroke="none">CW LEAD END</text>
<line x1="979.80" y1="760.00" x2="1095.60" y2="760.00"/>
<line x1="1146.00" y1="760.00" x2="1257.00" y2="760.00"/>
<line x1="1037.20" y1="574.40" x2="1216.20" y2="574.40"/>
<circle cx="1220.20" cy="574.40" r="3.80"/>
<line x1="1153.60" y1="595.10" x2="1216.20" y2="595.10"/>
<circle cx="1220.20" cy="595.10" r="3.80"/>
<circle cx="1220.20" cy="584.20" r="17.40"/>
<line x1="1212.00" y1="582.30" x2="1228.50" y2="582.30"/>
<line x1="1212.00" y1="586.20" x2="1228.50" y2="586.20"/>
<line x1="1033.20" y1="612.80" x2="1194.20" y2="612.80"/>
<circle cx="1198.00" cy="612.80" r="3.80"/>
<line x1="1201.80" y1="612.80" x2="1214.00" y2="612.80"/>
<text transform="translate(0 617.80) scale(0.8000 1)" x="1520.31 1530.66 1535.90 1545.97" font-size="14.93" stroke="none">LINE</text>
<line x1="1101.10" y1="628.00" x2="1146.60" y2="628.00"/>
<circle cx="1150.40" cy="628.00" r="3.80"/>
<line x1="1191.40" y1="636.80" x2="1156.50" y2="629.32"/>
<path d="M1156.50 629.32 L1170.22 629.70 L1169.18 634.59 Z" fill="#8e8e8e" stroke="none"/>
<line x1="1082.40" y1="644.30" x2="1146.60" y2="644.30"/>
<circle cx="1150.40" cy="644.30" r="3.80"/>
<line x1="1191.40" y1="636.80" x2="1156.50" y2="643.17"/>
<path d="M1156.50 643.17 L1169.33 638.29 L1170.23 643.21 Z" fill="#8e8e8e" stroke="none"/>
<line x1="1075.90" y1="660.70" x2="1146.60" y2="660.70"/>
<circle cx="1150.40" cy="660.70" r="3.80"/>
<line x1="1191.40" y1="636.80" x2="1156.50" y2="657.12"/>
<path d="M1156.50 657.12 L1166.91 648.16 L1169.42 652.48 Z" fill="#8e8e8e" stroke="none"/>
<line x1="1191.40" y1="636.80" x2="1212.70" y2="636.80"/>
<text transform="translate(0 642.20) scale(0.8000 1)" x="1520.33 1530.75 1536.02 1546.15" font-size="14.64" stroke="none">LINE</text>
<path d="M1039.8 684.4 L1081.5 684.4 L1081.5 745 L1040.4 745"/>
<path d="M1040 699.8 L1066 699.8 L1066 729.6 L1040 729.6"/>
<rect x="1062.80" y="707.30" width="21.90" height="5.90"/>
<rect x="1062.80" y="716.20" width="21.90" height="5.90"/>
<path d="M1194.6 684.4 L1159.2 684.4 L1159.2 745 L1194.6 745"/>
<path d="M1194.6 699.8 L1174.3 699.8 L1174.3 729.6 L1194.6 729.6"/>
<rect x="1156.00" y="707.30" width="21.60" height="5.90"/>
<rect x="1156.00" y="716.20" width="21.60" height="5.90"/>
<text transform="translate(0 689.10) scale(0.8000 1)" x="1495.41 1506.37 1517.40 1528.96 1540.89 1551.25" font-size="18.26" stroke="none">PURPLE</text>
<text transform="translate(0 703.80) scale(0.8000 1)" x="1498.16 1507.80 1518.51 1528.49 1537.25 1546.67" font-size="17.10" stroke="none">YELLOW</text>
<text transform="translate(0 734.00) scale(0.8000 1)" x="1495.41 1506.37 1517.40 1528.96 1540.89 1551.25" font-size="18.26" stroke="none">PURPLE</text>
<text transform="translate(0 749.10) scale(0.8000 1)" x="1498.13 1507.50 1517.92 1527.63 1536.15 1545.31" font-size="18.55" stroke="none">YELLOW</text>
<line x1="0.00" y1="776.80" x2="1280.00" y2="776.80" stroke-width="1.60" stroke="#777"/>
<line x1="22.50" y1="776.80" x2="22.50" y2="781.00"/>
<line x1="446.20" y1="776.80" x2="446.20" y2="781.00"/>
<line x1="561.00" y1="776.80" x2="561.00" y2="781.00"/>
<line x1="599.00" y1="776.80" x2="599.00" y2="781.00"/>
<line x1="709.40" y1="776.80" x2="709.40" y2="781.00"/>
<line x1="1127.50" y1="776.80" x2="1127.50" y2="781.00"/>
<text transform="translate(0 787.40) scale(0.8000 1)" x="774.11 782.05 792.10 800.40 809.12 818.62 827.22 836.13 845.21 854.41" font-size="13.04" fill="#555" stroke="none">TOLERANCES</text>
</svg></body></html>
